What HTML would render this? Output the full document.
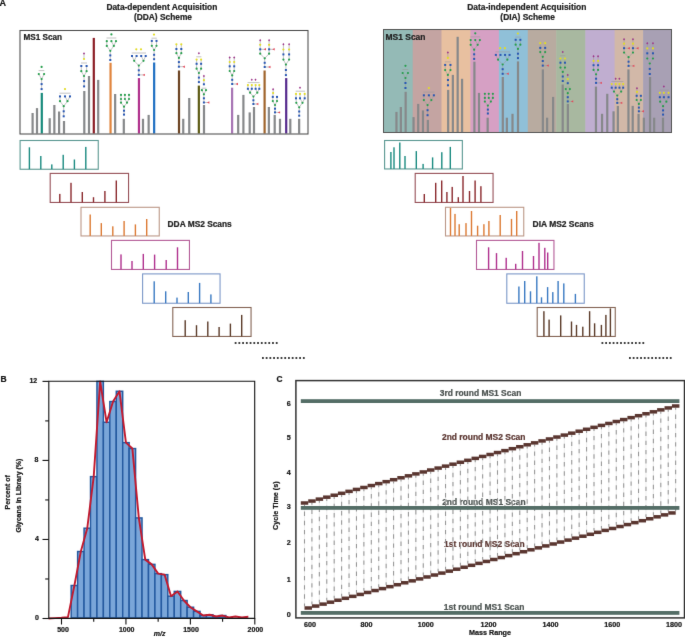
<!DOCTYPE html>
<html><head><meta charset="utf-8"><style>
html,body{margin:0;padding:0;background:#fff;}
svg{display:block;}
#w{width:685px;height:637px;overflow:hidden;}
</style></head><body><div id="w">
<svg width="685" height="637" viewBox="0 0 685 637"><defs><filter id="bl" filterUnits="userSpaceOnUse" x="0" y="0" width="685" height="637" color-interpolation-filters="sRGB"><feConvolveMatrix order="3" kernelMatrix="0.0072 0.0847 0.0072 0.0847 1.0000 0.0847 0.0072 0.0847 0.0072" divisor="1.3673" edgeMode="duplicate" preserveAlpha="true"/></filter></defs><rect width="685" height="637" fill="#fff"/><g filter="url(#bl)"><rect width="685" height="637" fill="#fff"/><text x="-0.4" y="6" font-size="9" text-anchor="start" fill="#161616" stroke="#161616" stroke-width="0.22" style="font-family:'Liberation Sans', sans-serif;font-weight:bold;">A</text><text x="0.4" y="381.7" font-size="8.5" text-anchor="start" fill="#161616" stroke="#161616" stroke-width="0.22" style="font-family:'Liberation Sans', sans-serif;font-weight:bold;">B</text><text x="276.4" y="381.6" font-size="8.4" text-anchor="start" fill="#161616" stroke="#161616" stroke-width="0.22" style="font-family:'Liberation Sans', sans-serif;font-weight:bold;">C</text><text x="161.85" y="10.0" font-size="8.4" text-anchor="middle" fill="#222" stroke="#222" stroke-width="0.22" style="font-family:'Liberation Sans', sans-serif;font-weight:bold;">Data-dependent Acquisition</text><text x="163" y="19.7" font-size="8.35" text-anchor="middle" fill="#222" stroke="#222" stroke-width="0.22" style="font-family:'Liberation Sans', sans-serif;font-weight:bold;">(DDA) Scheme</text><text x="526.8" y="10.0" font-size="8.45" text-anchor="middle" fill="#222" stroke="#222" stroke-width="0.22" style="font-family:'Liberation Sans', sans-serif;font-weight:bold;">Data-independent Acquisition</text><text x="527.6" y="19.7" font-size="8.4" text-anchor="middle" fill="#222" stroke="#222" stroke-width="0.22" style="font-family:'Liberation Sans', sans-serif;font-weight:bold;">(DIA) Scheme</text><rect x="31.50" y="113.00" width="2.2" height="20.50" fill="#86888a"/><rect x="35.90" y="108.10" width="2.2" height="25.40" fill="#86888a"/><rect x="40.70" y="92.90" width="2.2" height="40.60" fill="#178a7c"/><rect x="48.60" y="118.20" width="2.2" height="15.30" fill="#86888a"/><rect x="53.25" y="105.00" width="2.2" height="28.50" fill="#86888a"/><rect x="58.00" y="111.50" width="2.2" height="22.00" fill="#86888a"/><rect x="62.90" y="121.00" width="2.2" height="12.50" fill="#86888a"/><rect x="83.20" y="91.00" width="2.2" height="42.50" fill="#86888a"/><rect x="87.90" y="76.00" width="2.2" height="57.50" fill="#86888a"/><rect x="92.70" y="37.90" width="2.2" height="95.60" fill="#8b1c24"/><rect x="97.10" y="79.90" width="2.2" height="53.60" fill="#86888a"/><rect x="109.45" y="62.80" width="2.2" height="70.70" fill="#e0843c"/><rect x="114.05" y="94.00" width="2.2" height="39.50" fill="#86888a"/><rect x="122.70" y="118.80" width="2.2" height="14.70" fill="#86888a"/><rect x="137.85" y="78.10" width="2.2" height="55.40" fill="#b0308c"/><rect x="141.90" y="118.80" width="2.2" height="14.70" fill="#86888a"/><rect x="147.55" y="114.90" width="2.2" height="18.60" fill="#86888a"/><rect x="153.05" y="62.50" width="2.2" height="71.00" fill="#1f6fc2"/><rect x="177.90" y="70.50" width="2.2" height="63.00" fill="#6b4322"/><rect x="182.15" y="118.80" width="2.2" height="14.70" fill="#86888a"/><rect x="188.15" y="98.00" width="2.2" height="35.50" fill="#86888a"/><rect x="197.75" y="85.60" width="2.2" height="47.90" fill="#5c5a12"/><rect x="202.90" y="105.00" width="2.2" height="28.50" fill="#86888a"/><rect x="231.00" y="87.70" width="2.2" height="45.80" fill="#a774b4"/><rect x="237.10" y="114.90" width="2.2" height="18.60" fill="#86888a"/><rect x="242.30" y="94.90" width="2.2" height="38.60" fill="#86888a"/><rect x="248.60" y="112.40" width="2.2" height="21.10" fill="#86888a"/><rect x="252.90" y="107.00" width="2.2" height="26.50" fill="#86888a"/><rect x="263.50" y="70.50" width="2.2" height="63.00" fill="#a0642c"/><rect x="267.75" y="107.00" width="2.2" height="26.50" fill="#86888a"/><rect x="273.60" y="114.90" width="2.2" height="18.60" fill="#86888a"/><rect x="278.90" y="118.80" width="2.2" height="14.70" fill="#86888a"/><rect x="285.10" y="78.10" width="2.2" height="55.40" fill="#55298c"/><rect x="289.20" y="118.80" width="2.2" height="14.70" fill="#86888a"/><rect x="298.05" y="118.80" width="2.2" height="14.70" fill="#86888a"/><line x1="41.6" y1="89.1" x2="41.6" y2="84.1" stroke="#9a9a9a" stroke-width="0.6"/><line x1="41.6" y1="84.1" x2="41.6" y2="79.1" stroke="#9a9a9a" stroke-width="0.6"/><line x1="41.6" y1="79.1" x2="38.8" y2="74.1" stroke="#9a9a9a" stroke-width="0.6"/><line x1="41.6" y1="79.1" x2="44.1" y2="74.1" stroke="#9a9a9a" stroke-width="0.6"/><line x1="38.6" y1="70.6" x2="44.3" y2="70.6" stroke="#9a9a9a" stroke-width="0.6"/><line x1="63.7" y1="116.3" x2="63.7" y2="111.3" stroke="#9a9a9a" stroke-width="0.6"/><line x1="63.7" y1="111.3" x2="63.7" y2="106.2" stroke="#9a9a9a" stroke-width="0.6"/><line x1="63.7" y1="106.2" x2="60" y2="101.2" stroke="#9a9a9a" stroke-width="0.6"/><line x1="63.7" y1="106.2" x2="67.5" y2="101.2" stroke="#9a9a9a" stroke-width="0.6"/><line x1="60" y1="101.2" x2="60" y2="96.4" stroke="#9a9a9a" stroke-width="0.6"/><line x1="67.5" y1="101.2" x2="65" y2="96.4" stroke="#9a9a9a" stroke-width="0.6"/><line x1="67.5" y1="101.2" x2="70" y2="96.4" stroke="#9a9a9a" stroke-width="0.6"/><line x1="59.5" y1="93.2" x2="70.5" y2="93.2" stroke="#9a9a9a" stroke-width="0.6"/><line x1="84.1" y1="86.4" x2="84.1" y2="81.1" stroke="#9a9a9a" stroke-width="0.6"/><line x1="84.1" y1="81.1" x2="84" y2="76" stroke="#9a9a9a" stroke-width="0.6"/><line x1="84" y1="76" x2="81.3" y2="71.2" stroke="#9a9a9a" stroke-width="0.6"/><line x1="84" y1="76" x2="86.6" y2="71.2" stroke="#9a9a9a" stroke-width="0.6"/><line x1="81.3" y1="71.2" x2="81.3" y2="66" stroke="#9a9a9a" stroke-width="0.6"/><line x1="86.6" y1="71.2" x2="86.6" y2="66" stroke="#9a9a9a" stroke-width="0.6"/><line x1="84" y1="53.5" x2="84" y2="59" stroke="#9a9a9a" stroke-width="0.6"/><line x1="81" y1="63" x2="87" y2="63" stroke="#9a9a9a" stroke-width="0.6"/><line x1="110.3" y1="60" x2="110.3" y2="55.4" stroke="#9a9a9a" stroke-width="0.6"/><line x1="110.3" y1="55.4" x2="110.3" y2="50.8" stroke="#9a9a9a" stroke-width="0.6"/><line x1="110.3" y1="50.8" x2="106.8" y2="45.9" stroke="#9a9a9a" stroke-width="0.6"/><line x1="110.3" y1="50.8" x2="113.8" y2="45.9" stroke="#9a9a9a" stroke-width="0.6"/><line x1="106.8" y1="45.9" x2="106.8" y2="41.2" stroke="#9a9a9a" stroke-width="0.6"/><line x1="113.8" y1="45.9" x2="111.4" y2="41.2" stroke="#9a9a9a" stroke-width="0.6"/><line x1="113.8" y1="45.9" x2="116" y2="41.2" stroke="#9a9a9a" stroke-width="0.6"/><line x1="106.5" y1="38" x2="116.3" y2="38" stroke="#9a9a9a" stroke-width="0.6"/><line x1="124" y1="114.6" x2="124" y2="110.7" stroke="#9a9a9a" stroke-width="0.6"/><line x1="124" y1="110.7" x2="124" y2="106.7" stroke="#9a9a9a" stroke-width="0.6"/><line x1="124" y1="106.7" x2="121" y2="102.7" stroke="#9a9a9a" stroke-width="0.6"/><line x1="124" y1="106.7" x2="127" y2="102.7" stroke="#9a9a9a" stroke-width="0.6"/><line x1="121" y1="102.7" x2="121" y2="99" stroke="#9a9a9a" stroke-width="0.6"/><line x1="127" y1="102.7" x2="124.9" y2="99" stroke="#9a9a9a" stroke-width="0.6"/><line x1="127" y1="102.7" x2="129" y2="99" stroke="#9a9a9a" stroke-width="0.6"/><line x1="121" y1="99" x2="121" y2="94.9" stroke="#9a9a9a" stroke-width="0.6"/><line x1="124.9" y1="99" x2="124.9" y2="94.9" stroke="#9a9a9a" stroke-width="0.6"/><line x1="129" y1="99" x2="129" y2="94.9" stroke="#9a9a9a" stroke-width="0.6"/><line x1="138.8" y1="74.9" x2="138.8" y2="70.3" stroke="#9a9a9a" stroke-width="0.6"/><line x1="138.8" y1="70.3" x2="138.8" y2="65.6" stroke="#9a9a9a" stroke-width="0.6"/><line x1="138.8" y1="65.6" x2="134.2" y2="60.8" stroke="#9a9a9a" stroke-width="0.6"/><line x1="138.8" y1="65.6" x2="143.5" y2="60.8" stroke="#9a9a9a" stroke-width="0.6"/><line x1="134.2" y1="60.8" x2="132" y2="56" stroke="#9a9a9a" stroke-width="0.6"/><line x1="134.2" y1="60.8" x2="136.6" y2="56" stroke="#9a9a9a" stroke-width="0.6"/><line x1="143.5" y1="60.8" x2="141.2" y2="56" stroke="#9a9a9a" stroke-width="0.6"/><line x1="143.5" y1="60.8" x2="145.7" y2="56" stroke="#9a9a9a" stroke-width="0.6"/><line x1="138.8" y1="74.9" x2="143.8" y2="74.9" stroke="#9a9a9a" stroke-width="0.6"/><line x1="131.7" y1="53" x2="146" y2="53" stroke="#9a9a9a" stroke-width="0.6"/><line x1="154.1" y1="59.2" x2="154.1" y2="54.8" stroke="#9a9a9a" stroke-width="0.6"/><line x1="154.1" y1="54.8" x2="154.1" y2="50" stroke="#9a9a9a" stroke-width="0.6"/><line x1="154.1" y1="50" x2="151.8" y2="45.8" stroke="#9a9a9a" stroke-width="0.6"/><line x1="154.1" y1="50" x2="156.5" y2="45.8" stroke="#9a9a9a" stroke-width="0.6"/><line x1="151.8" y1="45.8" x2="151.8" y2="40.9" stroke="#9a9a9a" stroke-width="0.6"/><line x1="156.5" y1="45.8" x2="156.5" y2="40.9" stroke="#9a9a9a" stroke-width="0.6"/><line x1="151.5" y1="38.2" x2="156.8" y2="38.2" stroke="#9a9a9a" stroke-width="0.6"/><line x1="178.9" y1="66.7" x2="178.9" y2="62.1" stroke="#9a9a9a" stroke-width="0.6"/><line x1="178.9" y1="62.1" x2="178.9" y2="57.9" stroke="#9a9a9a" stroke-width="0.6"/><line x1="178.9" y1="57.9" x2="176.4" y2="53.2" stroke="#9a9a9a" stroke-width="0.6"/><line x1="178.9" y1="57.9" x2="181.3" y2="53.2" stroke="#9a9a9a" stroke-width="0.6"/><line x1="176.4" y1="53.2" x2="176.4" y2="49" stroke="#9a9a9a" stroke-width="0.6"/><line x1="181.3" y1="53.2" x2="181.3" y2="49" stroke="#9a9a9a" stroke-width="0.6"/><line x1="176.4" y1="49" x2="176.4" y2="44.3" stroke="#9a9a9a" stroke-width="0.6"/><line x1="181.3" y1="49" x2="181.3" y2="44.3" stroke="#9a9a9a" stroke-width="0.6"/><line x1="178.9" y1="66.7" x2="183.8" y2="66.7" stroke="#9a9a9a" stroke-width="0.6"/><line x1="198.9" y1="82.1" x2="198.9" y2="77.6" stroke="#9a9a9a" stroke-width="0.6"/><line x1="198.9" y1="77.6" x2="198.9" y2="73" stroke="#9a9a9a" stroke-width="0.6"/><line x1="198.9" y1="73" x2="196.6" y2="68.7" stroke="#9a9a9a" stroke-width="0.6"/><line x1="198.9" y1="73" x2="201.1" y2="68.7" stroke="#9a9a9a" stroke-width="0.6"/><line x1="196.6" y1="68.7" x2="196.6" y2="63.8" stroke="#9a9a9a" stroke-width="0.6"/><line x1="201.1" y1="68.7" x2="201.1" y2="63.8" stroke="#9a9a9a" stroke-width="0.6"/><line x1="196.6" y1="63.8" x2="196.6" y2="59.6" stroke="#9a9a9a" stroke-width="0.6"/><line x1="201.1" y1="63.8" x2="201.1" y2="59.6" stroke="#9a9a9a" stroke-width="0.6"/><line x1="196.3" y1="56.8" x2="201.4" y2="56.8" stroke="#9a9a9a" stroke-width="0.6"/><line x1="203.9" y1="102.5" x2="203.9" y2="98.3" stroke="#9a9a9a" stroke-width="0.6"/><line x1="203.9" y1="98.3" x2="203.9" y2="94.3" stroke="#9a9a9a" stroke-width="0.6"/><line x1="203.9" y1="94.3" x2="201.9" y2="90.2" stroke="#9a9a9a" stroke-width="0.6"/><line x1="203.9" y1="94.3" x2="206" y2="90.2" stroke="#9a9a9a" stroke-width="0.6"/><line x1="203.9" y1="84.3" x2="203.9" y2="80.2" stroke="#9a9a9a" stroke-width="0.6"/><line x1="203.9" y1="80.2" x2="203.9" y2="76.1" stroke="#9a9a9a" stroke-width="0.6"/><line x1="203.9" y1="102.5" x2="208.3" y2="102.5" stroke="#9a9a9a" stroke-width="0.6"/><line x1="201.6" y1="88.2" x2="206.3" y2="88.2" stroke="#9a9a9a" stroke-width="0.6"/><line x1="232.2" y1="84" x2="232.2" y2="79.8" stroke="#9a9a9a" stroke-width="0.6"/><line x1="232.2" y1="79.8" x2="232.2" y2="75.4" stroke="#9a9a9a" stroke-width="0.6"/><line x1="232.2" y1="75.4" x2="229.7" y2="71" stroke="#9a9a9a" stroke-width="0.6"/><line x1="232.2" y1="75.4" x2="234.2" y2="71" stroke="#9a9a9a" stroke-width="0.6"/><line x1="229.7" y1="71" x2="229.7" y2="66.3" stroke="#9a9a9a" stroke-width="0.6"/><line x1="234.2" y1="71" x2="234.2" y2="66.3" stroke="#9a9a9a" stroke-width="0.6"/><line x1="229.7" y1="66.3" x2="229.7" y2="62" stroke="#9a9a9a" stroke-width="0.6"/><line x1="234.2" y1="66.3" x2="234.2" y2="62" stroke="#9a9a9a" stroke-width="0.6"/><line x1="229.7" y1="62" x2="229.7" y2="57.4" stroke="#9a9a9a" stroke-width="0.6"/><line x1="234.2" y1="62" x2="234.2" y2="57.4" stroke="#9a9a9a" stroke-width="0.6"/><line x1="232.2" y1="84" x2="236.9" y2="84" stroke="#9a9a9a" stroke-width="0.6"/><line x1="253.4" y1="104" x2="253.4" y2="100.3" stroke="#9a9a9a" stroke-width="0.6"/><line x1="253.4" y1="100.3" x2="253.4" y2="96.6" stroke="#9a9a9a" stroke-width="0.6"/><line x1="253.4" y1="96.6" x2="250.1" y2="92.7" stroke="#9a9a9a" stroke-width="0.6"/><line x1="253.4" y1="96.6" x2="257.3" y2="92.7" stroke="#9a9a9a" stroke-width="0.6"/><line x1="250.1" y1="92.7" x2="247.9" y2="88.8" stroke="#9a9a9a" stroke-width="0.6"/><line x1="250.1" y1="92.7" x2="251.8" y2="88.8" stroke="#9a9a9a" stroke-width="0.6"/><line x1="257.3" y1="92.7" x2="255.6" y2="88.8" stroke="#9a9a9a" stroke-width="0.6"/><line x1="257.3" y1="92.7" x2="259.3" y2="88.8" stroke="#9a9a9a" stroke-width="0.6"/><line x1="247.9" y1="88.8" x2="247.9" y2="85.1" stroke="#9a9a9a" stroke-width="0.6"/><line x1="251.8" y1="88.8" x2="251.8" y2="85.1" stroke="#9a9a9a" stroke-width="0.6"/><line x1="255.6" y1="88.8" x2="255.6" y2="85.1" stroke="#9a9a9a" stroke-width="0.6"/><line x1="259.3" y1="88.8" x2="259.3" y2="85.1" stroke="#9a9a9a" stroke-width="0.6"/><line x1="253.4" y1="104" x2="257.3" y2="104" stroke="#9a9a9a" stroke-width="0.6"/><line x1="247.6" y1="82.6" x2="259.6" y2="82.6" stroke="#9a9a9a" stroke-width="0.6"/><line x1="264.7" y1="67" x2="264.7" y2="62.8" stroke="#9a9a9a" stroke-width="0.6"/><line x1="264.7" y1="62.8" x2="264.7" y2="58.3" stroke="#9a9a9a" stroke-width="0.6"/><line x1="264.7" y1="58.3" x2="260.2" y2="53.7" stroke="#9a9a9a" stroke-width="0.6"/><line x1="264.7" y1="58.3" x2="269.1" y2="53.7" stroke="#9a9a9a" stroke-width="0.6"/><line x1="260.2" y1="53.7" x2="260.2" y2="49.3" stroke="#9a9a9a" stroke-width="0.6"/><line x1="269.1" y1="53.7" x2="269.1" y2="49.3" stroke="#9a9a9a" stroke-width="0.6"/><line x1="260.2" y1="49.3" x2="260.2" y2="44.8" stroke="#9a9a9a" stroke-width="0.6"/><line x1="269.1" y1="49.3" x2="269.1" y2="44.8" stroke="#9a9a9a" stroke-width="0.6"/><line x1="260.2" y1="44.8" x2="260.2" y2="40.3" stroke="#9a9a9a" stroke-width="0.6"/><line x1="269.1" y1="44.8" x2="269.1" y2="40.3" stroke="#9a9a9a" stroke-width="0.6"/><line x1="260.2" y1="49.3" x2="264.9" y2="49.3" stroke="#9a9a9a" stroke-width="0.6"/><line x1="269.1" y1="49.3" x2="273.6" y2="49.3" stroke="#9a9a9a" stroke-width="0.6"/><line x1="264.7" y1="67" x2="269.4" y2="67" stroke="#9a9a9a" stroke-width="0.6"/><line x1="275" y1="112.4" x2="275" y2="108.7" stroke="#9a9a9a" stroke-width="0.6"/><line x1="275" y1="108.7" x2="275" y2="105" stroke="#9a9a9a" stroke-width="0.6"/><line x1="275" y1="105" x2="272.8" y2="101.1" stroke="#9a9a9a" stroke-width="0.6"/><line x1="275" y1="105" x2="277" y2="101.1" stroke="#9a9a9a" stroke-width="0.6"/><line x1="272.8" y1="101.1" x2="272.8" y2="96.9" stroke="#9a9a9a" stroke-width="0.6"/><line x1="277" y1="101.1" x2="277" y2="96.9" stroke="#9a9a9a" stroke-width="0.6"/><line x1="272.8" y1="96.9" x2="273.1" y2="93" stroke="#9a9a9a" stroke-width="0.6"/><line x1="273.1" y1="93" x2="273.1" y2="89.3" stroke="#9a9a9a" stroke-width="0.6"/><line x1="275" y1="112.4" x2="279" y2="112.4" stroke="#9a9a9a" stroke-width="0.6"/><line x1="285.9" y1="75.1" x2="285.9" y2="70" stroke="#9a9a9a" stroke-width="0.6"/><line x1="285.9" y1="70" x2="285.9" y2="64.6" stroke="#9a9a9a" stroke-width="0.6"/><line x1="285.9" y1="64.6" x2="283.4" y2="59.6" stroke="#9a9a9a" stroke-width="0.6"/><line x1="285.9" y1="64.6" x2="289.1" y2="59.6" stroke="#9a9a9a" stroke-width="0.6"/><line x1="283.4" y1="59.6" x2="283.4" y2="54.4" stroke="#9a9a9a" stroke-width="0.6"/><line x1="289.1" y1="59.6" x2="289.1" y2="54.4" stroke="#9a9a9a" stroke-width="0.6"/><line x1="283.4" y1="54.4" x2="283.4" y2="49.5" stroke="#9a9a9a" stroke-width="0.6"/><line x1="289.1" y1="54.4" x2="289.1" y2="49.5" stroke="#9a9a9a" stroke-width="0.6"/><line x1="283.4" y1="49.5" x2="283.4" y2="44.3" stroke="#9a9a9a" stroke-width="0.6"/><line x1="289.1" y1="49.5" x2="289.1" y2="44.3" stroke="#9a9a9a" stroke-width="0.6"/><line x1="299.2" y1="115.7" x2="299.2" y2="111.5" stroke="#9a9a9a" stroke-width="0.6"/><line x1="299.2" y1="111.5" x2="299.2" y2="107.3" stroke="#9a9a9a" stroke-width="0.6"/><line x1="299.2" y1="107.3" x2="296.3" y2="102.8" stroke="#9a9a9a" stroke-width="0.6"/><line x1="299.2" y1="107.3" x2="302.5" y2="102.8" stroke="#9a9a9a" stroke-width="0.6"/><line x1="296.3" y1="102.8" x2="296" y2="98.3" stroke="#9a9a9a" stroke-width="0.6"/><line x1="302.5" y1="102.8" x2="300" y2="98.3" stroke="#9a9a9a" stroke-width="0.6"/><line x1="302.5" y1="102.8" x2="304.7" y2="98.3" stroke="#9a9a9a" stroke-width="0.6"/><line x1="296" y1="98.3" x2="296" y2="93.9" stroke="#9a9a9a" stroke-width="0.6"/><line x1="300" y1="98.3" x2="300" y2="93.9" stroke="#9a9a9a" stroke-width="0.6"/><line x1="304.7" y1="98.3" x2="304.7" y2="93.9" stroke="#9a9a9a" stroke-width="0.6"/><line x1="295.7" y1="91.2" x2="305" y2="91.2" stroke="#9a9a9a" stroke-width="0.6"/><circle cx="41.60" cy="66.90" r="1.1" fill="#269e4c"/><circle cx="38.80" cy="74.10" r="1.1" fill="#269e4c"/><circle cx="44.10" cy="74.10" r="1.1" fill="#269e4c"/><circle cx="41.60" cy="79.10" r="1.1" fill="#269e4c"/><rect x="40.60" y="83.10" width="2.0" height="2.0" fill="#2756b2"/><rect x="40.60" y="88.10" width="2.0" height="2.0" fill="#2756b2"/><circle cx="65.00" cy="89.10" r="1.1" fill="#e2dc26"/><rect x="59.00" y="95.40" width="2.0" height="2.0" fill="#2756b2"/><rect x="64.00" y="95.40" width="2.0" height="2.0" fill="#2756b2"/><rect x="69.00" y="95.40" width="2.0" height="2.0" fill="#2756b2"/><circle cx="60.00" cy="101.20" r="1.1" fill="#269e4c"/><circle cx="67.50" cy="101.20" r="1.1" fill="#269e4c"/><circle cx="63.70" cy="106.20" r="1.1" fill="#269e4c"/><rect x="62.70" y="110.30" width="2.0" height="2.0" fill="#2756b2"/><rect x="62.70" y="115.30" width="2.0" height="2.0" fill="#2756b2"/><path d="M84.00,52.25 L85.05,53.50 L84.00,54.75 L82.95,53.50 Z" fill="#9c3488"/><circle cx="84.00" cy="59.00" r="1.1" fill="#e2dc26"/><rect x="80.30" y="65.00" width="2.0" height="2.0" fill="#2756b2"/><rect x="85.60" y="65.00" width="2.0" height="2.0" fill="#2756b2"/><circle cx="81.30" cy="71.20" r="1.1" fill="#269e4c"/><circle cx="86.60" cy="71.20" r="1.1" fill="#269e4c"/><circle cx="84.00" cy="76.00" r="1.1" fill="#269e4c"/><rect x="83.10" y="80.10" width="2.0" height="2.0" fill="#2756b2"/><rect x="83.10" y="85.40" width="2.0" height="2.0" fill="#2756b2"/><circle cx="111.40" cy="34.40" r="1.1" fill="#269e4c"/><circle cx="106.80" cy="41.20" r="1.1" fill="#269e4c"/><circle cx="111.40" cy="41.20" r="1.1" fill="#269e4c"/><circle cx="116.00" cy="41.20" r="1.1" fill="#269e4c"/><circle cx="106.80" cy="45.90" r="1.1" fill="#269e4c"/><circle cx="113.80" cy="45.90" r="1.1" fill="#269e4c"/><circle cx="110.30" cy="50.80" r="1.1" fill="#269e4c"/><rect x="109.30" y="54.40" width="2.0" height="2.0" fill="#2756b2"/><rect x="109.30" y="59.00" width="2.0" height="2.0" fill="#2756b2"/><circle cx="121.00" cy="94.90" r="1.1" fill="#269e4c"/><circle cx="124.90" cy="94.90" r="1.1" fill="#269e4c"/><circle cx="129.00" cy="94.90" r="1.1" fill="#269e4c"/><circle cx="121.00" cy="99.00" r="1.1" fill="#269e4c"/><circle cx="124.90" cy="99.00" r="1.1" fill="#269e4c"/><circle cx="129.00" cy="99.00" r="1.1" fill="#269e4c"/><circle cx="121.00" cy="102.70" r="1.1" fill="#269e4c"/><circle cx="127.00" cy="102.70" r="1.1" fill="#269e4c"/><circle cx="124.00" cy="106.70" r="1.1" fill="#269e4c"/><rect x="123.00" y="109.70" width="2.0" height="2.0" fill="#2756b2"/><rect x="123.00" y="113.60" width="2.0" height="2.0" fill="#2756b2"/><circle cx="136.30" cy="49.30" r="1.1" fill="#e2dc26"/><circle cx="141.00" cy="49.30" r="1.1" fill="#e2dc26"/><rect x="131.00" y="55.00" width="2.0" height="2.0" fill="#2756b2"/><rect x="135.60" y="55.00" width="2.0" height="2.0" fill="#2756b2"/><rect x="140.20" y="55.00" width="2.0" height="2.0" fill="#2756b2"/><rect x="144.70" y="55.00" width="2.0" height="2.0" fill="#2756b2"/><circle cx="134.20" cy="60.80" r="1.1" fill="#269e4c"/><circle cx="143.50" cy="60.80" r="1.1" fill="#269e4c"/><circle cx="138.80" cy="65.60" r="1.1" fill="#269e4c"/><rect x="137.80" y="69.30" width="2.0" height="2.0" fill="#2756b2"/><rect x="137.80" y="73.90" width="2.0" height="2.0" fill="#2756b2"/><path d="M142.50,74.90 L144.90,73.70 L144.90,76.10 Z" fill="#e4485a"/><circle cx="154.00" cy="34.60" r="1.1" fill="#e2dc26"/><rect x="150.80" y="39.90" width="2.0" height="2.0" fill="#2756b2"/><rect x="155.50" y="39.90" width="2.0" height="2.0" fill="#2756b2"/><circle cx="151.80" cy="45.80" r="1.1" fill="#269e4c"/><circle cx="156.50" cy="45.80" r="1.1" fill="#269e4c"/><circle cx="154.10" cy="50.00" r="1.1" fill="#269e4c"/><rect x="153.10" y="53.80" width="2.0" height="2.0" fill="#2756b2"/><rect x="153.10" y="58.20" width="2.0" height="2.0" fill="#2756b2"/><circle cx="176.40" cy="44.30" r="1.1" fill="#e2dc26"/><circle cx="181.30" cy="44.30" r="1.1" fill="#e2dc26"/><rect x="175.40" y="48.00" width="2.0" height="2.0" fill="#2756b2"/><rect x="180.30" y="48.00" width="2.0" height="2.0" fill="#2756b2"/><circle cx="176.40" cy="53.20" r="1.1" fill="#269e4c"/><circle cx="181.30" cy="53.20" r="1.1" fill="#269e4c"/><circle cx="178.90" cy="57.90" r="1.1" fill="#269e4c"/><rect x="177.90" y="61.10" width="2.0" height="2.0" fill="#2756b2"/><rect x="177.90" y="65.70" width="2.0" height="2.0" fill="#2756b2"/><path d="M182.50,66.70 L184.90,65.50 L184.90,67.90 Z" fill="#e4485a"/><path d="M198.90,51.95 L199.95,53.20 L198.90,54.45 L197.85,53.20 Z" fill="#9c3488"/><circle cx="196.60" cy="59.60" r="1.1" fill="#e2dc26"/><circle cx="201.10" cy="59.60" r="1.1" fill="#e2dc26"/><rect x="195.60" y="62.80" width="2.0" height="2.0" fill="#2756b2"/><rect x="200.10" y="62.80" width="2.0" height="2.0" fill="#2756b2"/><circle cx="196.60" cy="68.70" r="1.1" fill="#269e4c"/><circle cx="201.10" cy="68.70" r="1.1" fill="#269e4c"/><circle cx="198.90" cy="73.00" r="1.1" fill="#269e4c"/><rect x="197.90" y="76.60" width="2.0" height="2.0" fill="#2756b2"/><rect x="197.90" y="81.10" width="2.0" height="2.0" fill="#2756b2"/><path d="M203.90,74.85 L204.95,76.10 L203.90,77.35 L202.85,76.10 Z" fill="#9c3488"/><circle cx="203.90" cy="80.20" r="1.1" fill="#e2dc26"/><rect x="202.90" y="83.30" width="2.0" height="2.0" fill="#2756b2"/><circle cx="201.90" cy="90.20" r="1.1" fill="#269e4c"/><circle cx="206.00" cy="90.20" r="1.1" fill="#269e4c"/><circle cx="203.90" cy="94.30" r="1.1" fill="#269e4c"/><rect x="202.90" y="97.30" width="2.0" height="2.0" fill="#2756b2"/><rect x="202.90" y="101.50" width="2.0" height="2.0" fill="#2756b2"/><path d="M207.00,102.50 L209.40,101.30 L209.40,103.70 Z" fill="#e4485a"/><path d="M229.70,56.15 L230.75,57.40 L229.70,58.65 L228.65,57.40 Z" fill="#9c3488"/><path d="M234.20,56.15 L235.25,57.40 L234.20,58.65 L233.15,57.40 Z" fill="#9c3488"/><circle cx="229.70" cy="62.00" r="1.1" fill="#e2dc26"/><circle cx="234.20" cy="62.00" r="1.1" fill="#e2dc26"/><rect x="228.70" y="65.30" width="2.0" height="2.0" fill="#2756b2"/><rect x="233.20" y="65.30" width="2.0" height="2.0" fill="#2756b2"/><circle cx="229.70" cy="71.00" r="1.1" fill="#269e4c"/><circle cx="234.20" cy="71.00" r="1.1" fill="#269e4c"/><circle cx="232.20" cy="75.40" r="1.1" fill="#269e4c"/><rect x="231.20" y="78.80" width="2.0" height="2.0" fill="#2756b2"/><rect x="231.20" y="83.00" width="2.0" height="2.0" fill="#2756b2"/><path d="M235.60,84.00 L238.00,82.80 L238.00,85.20 Z" fill="#e4485a"/><path d="M251.80,78.55 L252.85,79.80 L251.80,81.05 L250.75,79.80 Z" fill="#9c3488"/><path d="M255.50,78.55 L256.55,79.80 L255.50,81.05 L254.45,79.80 Z" fill="#9c3488"/><circle cx="247.90" cy="85.10" r="1.1" fill="#e2dc26"/><circle cx="251.80" cy="85.10" r="1.1" fill="#e2dc26"/><circle cx="255.60" cy="85.10" r="1.1" fill="#e2dc26"/><circle cx="259.30" cy="85.10" r="1.1" fill="#e2dc26"/><rect x="246.90" y="87.80" width="2.0" height="2.0" fill="#2756b2"/><rect x="250.80" y="87.80" width="2.0" height="2.0" fill="#2756b2"/><rect x="254.60" y="87.80" width="2.0" height="2.0" fill="#2756b2"/><rect x="258.30" y="87.80" width="2.0" height="2.0" fill="#2756b2"/><circle cx="250.10" cy="92.70" r="1.1" fill="#269e4c"/><circle cx="257.30" cy="92.70" r="1.1" fill="#269e4c"/><circle cx="253.40" cy="96.60" r="1.1" fill="#269e4c"/><rect x="252.40" y="99.30" width="2.0" height="2.0" fill="#2756b2"/><rect x="252.40" y="103.00" width="2.0" height="2.0" fill="#2756b2"/><path d="M256.00,104.00 L258.40,102.80 L258.40,105.20 Z" fill="#e4485a"/><path d="M260.20,39.05 L261.25,40.30 L260.20,41.55 L259.15,40.30 Z" fill="#9c3488"/><path d="M269.10,39.05 L270.15,40.30 L269.10,41.55 L268.05,40.30 Z" fill="#9c3488"/><circle cx="260.20" cy="44.80" r="1.1" fill="#e2dc26"/><circle cx="269.10" cy="44.80" r="1.1" fill="#e2dc26"/><rect x="259.20" y="48.30" width="2.0" height="2.0" fill="#2756b2"/><rect x="268.10" y="48.30" width="2.0" height="2.0" fill="#2756b2"/><path d="M263.60,49.30 L266.00,48.10 L266.00,50.50 Z" fill="#e4485a"/><path d="M272.30,49.30 L274.70,48.10 L274.70,50.50 Z" fill="#e4485a"/><circle cx="260.20" cy="53.70" r="1.1" fill="#269e4c"/><circle cx="269.10" cy="53.70" r="1.1" fill="#269e4c"/><circle cx="264.70" cy="58.30" r="1.1" fill="#269e4c"/><rect x="263.70" y="61.80" width="2.0" height="2.0" fill="#2756b2"/><rect x="263.70" y="66.00" width="2.0" height="2.0" fill="#2756b2"/><path d="M268.10,67.00 L270.50,65.80 L270.50,68.20 Z" fill="#e4485a"/><path d="M273.10,88.05 L274.15,89.30 L273.10,90.55 L272.05,89.30 Z" fill="#9c3488"/><circle cx="273.10" cy="93.00" r="1.1" fill="#e2dc26"/><rect x="271.80" y="95.90" width="2.0" height="2.0" fill="#2756b2"/><rect x="276.00" y="95.90" width="2.0" height="2.0" fill="#2756b2"/><circle cx="272.80" cy="101.10" r="1.1" fill="#269e4c"/><circle cx="277.00" cy="101.10" r="1.1" fill="#269e4c"/><circle cx="275.00" cy="105.00" r="1.1" fill="#269e4c"/><rect x="274.00" y="107.70" width="2.0" height="2.0" fill="#2756b2"/><rect x="274.00" y="111.40" width="2.0" height="2.0" fill="#2756b2"/><path d="M277.70,112.40 L280.10,111.20 L280.10,113.60 Z" fill="#e4485a"/><path d="M283.40,43.05 L284.45,44.30 L283.40,45.55 L282.35,44.30 Z" fill="#9c3488"/><path d="M289.10,43.05 L290.15,44.30 L289.10,45.55 L288.05,44.30 Z" fill="#9c3488"/><circle cx="283.40" cy="49.50" r="1.1" fill="#e2dc26"/><circle cx="289.10" cy="49.50" r="1.1" fill="#e2dc26"/><rect x="282.40" y="53.40" width="2.0" height="2.0" fill="#2756b2"/><rect x="288.10" y="53.40" width="2.0" height="2.0" fill="#2756b2"/><circle cx="283.40" cy="59.60" r="1.1" fill="#269e4c"/><circle cx="289.10" cy="59.60" r="1.1" fill="#269e4c"/><circle cx="285.90" cy="64.60" r="1.1" fill="#269e4c"/><rect x="284.90" y="69.00" width="2.0" height="2.0" fill="#2756b2"/><rect x="284.90" y="74.10" width="2.0" height="2.0" fill="#2756b2"/><path d="M300.00,86.45 L301.05,87.70 L300.00,88.95 L298.95,87.70 Z" fill="#9c3488"/><circle cx="296.00" cy="93.90" r="1.1" fill="#e2dc26"/><circle cx="300.00" cy="93.90" r="1.1" fill="#e2dc26"/><circle cx="304.70" cy="93.90" r="1.1" fill="#e2dc26"/><rect x="295.00" y="97.30" width="2.0" height="2.0" fill="#2756b2"/><rect x="299.00" y="97.30" width="2.0" height="2.0" fill="#2756b2"/><rect x="303.70" y="97.30" width="2.0" height="2.0" fill="#2756b2"/><circle cx="296.30" cy="102.80" r="1.1" fill="#269e4c"/><circle cx="302.50" cy="102.80" r="1.1" fill="#269e4c"/><circle cx="299.20" cy="107.30" r="1.1" fill="#269e4c"/><rect x="298.20" y="110.50" width="2.0" height="2.0" fill="#2756b2"/><rect x="298.20" y="114.70" width="2.0" height="2.0" fill="#2756b2"/><rect x="20" y="30.5" width="288" height="103.5" fill="none" stroke="#4a4a4a" stroke-width="1.05"/><text x="23.4" y="39.9" font-size="8.2" text-anchor="start" fill="#1c1c1c" stroke="#1c1c1c" stroke-width="0.22" style="font-family:'Liberation Sans', sans-serif;font-weight:bold;">MS1 Scan</text><rect x="383.4" y="29" width="29.90" height="104" fill="#94bab6"/><rect x="412.7" y="29" width="29.40" height="104" fill="#c4a4a2"/><rect x="441.5" y="29" width="29.50" height="104" fill="#e8c0a0"/><rect x="470.4" y="29" width="29.10" height="104" fill="#d6a0c4"/><rect x="498.9" y="29" width="29.50" height="104" fill="#90c0d8"/><rect x="527.8" y="29" width="29.00" height="104" fill="#b8aba0"/><rect x="556.2" y="29" width="29.70" height="104" fill="#a8b8a0"/><rect x="585.3" y="29" width="29.90" height="104" fill="#c0aed0"/><rect x="614.6" y="29" width="29.10" height="104" fill="#d2b8a8"/><rect x="643.1" y="29" width="28.90" height="104" fill="#a8a0b4"/><rect x="395.36" y="111.90" width="2.2" height="20.50" fill="#86888a"/><rect x="399.76" y="107.00" width="2.2" height="25.40" fill="#86888a"/><rect x="404.56" y="91.80" width="2.2" height="40.60" fill="#86888a"/><rect x="412.46" y="117.10" width="2.2" height="15.30" fill="#86888a"/><rect x="417.11" y="103.90" width="2.2" height="28.50" fill="#86888a"/><rect x="421.86" y="110.40" width="2.2" height="22.00" fill="#86888a"/><rect x="426.76" y="119.90" width="2.2" height="12.50" fill="#86888a"/><rect x="447.06" y="89.90" width="2.2" height="42.50" fill="#86888a"/><rect x="451.76" y="74.90" width="2.2" height="57.50" fill="#86888a"/><rect x="456.56" y="36.80" width="2.2" height="95.60" fill="#86888a"/><rect x="460.96" y="78.80" width="2.2" height="53.60" fill="#86888a"/><rect x="473.31" y="61.70" width="2.2" height="70.70" fill="#86888a"/><rect x="477.91" y="92.90" width="2.2" height="39.50" fill="#86888a"/><rect x="486.56" y="117.70" width="2.2" height="14.70" fill="#86888a"/><rect x="501.71" y="77.00" width="2.2" height="55.40" fill="#86888a"/><rect x="505.76" y="117.70" width="2.2" height="14.70" fill="#86888a"/><rect x="511.41" y="113.80" width="2.2" height="18.60" fill="#86888a"/><rect x="516.91" y="61.40" width="2.2" height="71.00" fill="#86888a"/><rect x="541.76" y="69.40" width="2.2" height="63.00" fill="#86888a"/><rect x="546.01" y="117.70" width="2.2" height="14.70" fill="#86888a"/><rect x="552.01" y="96.90" width="2.2" height="35.50" fill="#86888a"/><rect x="561.61" y="84.50" width="2.2" height="47.90" fill="#86888a"/><rect x="566.76" y="103.90" width="2.2" height="28.50" fill="#86888a"/><rect x="594.86" y="86.60" width="2.2" height="45.80" fill="#86888a"/><rect x="600.96" y="113.80" width="2.2" height="18.60" fill="#86888a"/><rect x="606.16" y="93.80" width="2.2" height="38.60" fill="#86888a"/><rect x="612.46" y="111.30" width="2.2" height="21.10" fill="#86888a"/><rect x="616.76" y="105.90" width="2.2" height="26.50" fill="#86888a"/><rect x="627.36" y="69.40" width="2.2" height="63.00" fill="#86888a"/><rect x="631.61" y="105.90" width="2.2" height="26.50" fill="#86888a"/><rect x="637.46" y="113.80" width="2.2" height="18.60" fill="#86888a"/><rect x="642.76" y="117.70" width="2.2" height="14.70" fill="#86888a"/><rect x="648.96" y="77.00" width="2.2" height="55.40" fill="#86888a"/><rect x="653.06" y="117.70" width="2.2" height="14.70" fill="#86888a"/><rect x="661.91" y="117.70" width="2.2" height="14.70" fill="#86888a"/><g transform="translate(363.86,-1.1)"><line x1="41.6" y1="89.1" x2="41.6" y2="84.1" stroke="#9a9a9a" stroke-width="0.6"/><line x1="41.6" y1="84.1" x2="41.6" y2="79.1" stroke="#9a9a9a" stroke-width="0.6"/><line x1="41.6" y1="79.1" x2="38.8" y2="74.1" stroke="#9a9a9a" stroke-width="0.6"/><line x1="41.6" y1="79.1" x2="44.1" y2="74.1" stroke="#9a9a9a" stroke-width="0.6"/><line x1="38.6" y1="70.6" x2="44.3" y2="70.6" stroke="#9a9a9a" stroke-width="0.6"/><line x1="63.7" y1="116.3" x2="63.7" y2="111.3" stroke="#9a9a9a" stroke-width="0.6"/><line x1="63.7" y1="111.3" x2="63.7" y2="106.2" stroke="#9a9a9a" stroke-width="0.6"/><line x1="63.7" y1="106.2" x2="60" y2="101.2" stroke="#9a9a9a" stroke-width="0.6"/><line x1="63.7" y1="106.2" x2="67.5" y2="101.2" stroke="#9a9a9a" stroke-width="0.6"/><line x1="60" y1="101.2" x2="60" y2="96.4" stroke="#9a9a9a" stroke-width="0.6"/><line x1="67.5" y1="101.2" x2="65" y2="96.4" stroke="#9a9a9a" stroke-width="0.6"/><line x1="67.5" y1="101.2" x2="70" y2="96.4" stroke="#9a9a9a" stroke-width="0.6"/><line x1="59.5" y1="93.2" x2="70.5" y2="93.2" stroke="#9a9a9a" stroke-width="0.6"/><line x1="84.1" y1="86.4" x2="84.1" y2="81.1" stroke="#9a9a9a" stroke-width="0.6"/><line x1="84.1" y1="81.1" x2="84" y2="76" stroke="#9a9a9a" stroke-width="0.6"/><line x1="84" y1="76" x2="81.3" y2="71.2" stroke="#9a9a9a" stroke-width="0.6"/><line x1="84" y1="76" x2="86.6" y2="71.2" stroke="#9a9a9a" stroke-width="0.6"/><line x1="81.3" y1="71.2" x2="81.3" y2="66" stroke="#9a9a9a" stroke-width="0.6"/><line x1="86.6" y1="71.2" x2="86.6" y2="66" stroke="#9a9a9a" stroke-width="0.6"/><line x1="84" y1="53.5" x2="84" y2="59" stroke="#9a9a9a" stroke-width="0.6"/><line x1="81" y1="63" x2="87" y2="63" stroke="#9a9a9a" stroke-width="0.6"/><line x1="110.3" y1="60" x2="110.3" y2="55.4" stroke="#9a9a9a" stroke-width="0.6"/><line x1="110.3" y1="55.4" x2="110.3" y2="50.8" stroke="#9a9a9a" stroke-width="0.6"/><line x1="110.3" y1="50.8" x2="106.8" y2="45.9" stroke="#9a9a9a" stroke-width="0.6"/><line x1="110.3" y1="50.8" x2="113.8" y2="45.9" stroke="#9a9a9a" stroke-width="0.6"/><line x1="106.8" y1="45.9" x2="106.8" y2="41.2" stroke="#9a9a9a" stroke-width="0.6"/><line x1="113.8" y1="45.9" x2="111.4" y2="41.2" stroke="#9a9a9a" stroke-width="0.6"/><line x1="113.8" y1="45.9" x2="116" y2="41.2" stroke="#9a9a9a" stroke-width="0.6"/><line x1="106.5" y1="38" x2="116.3" y2="38" stroke="#9a9a9a" stroke-width="0.6"/><line x1="124" y1="114.6" x2="124" y2="110.7" stroke="#9a9a9a" stroke-width="0.6"/><line x1="124" y1="110.7" x2="124" y2="106.7" stroke="#9a9a9a" stroke-width="0.6"/><line x1="124" y1="106.7" x2="121" y2="102.7" stroke="#9a9a9a" stroke-width="0.6"/><line x1="124" y1="106.7" x2="127" y2="102.7" stroke="#9a9a9a" stroke-width="0.6"/><line x1="121" y1="102.7" x2="121" y2="99" stroke="#9a9a9a" stroke-width="0.6"/><line x1="127" y1="102.7" x2="124.9" y2="99" stroke="#9a9a9a" stroke-width="0.6"/><line x1="127" y1="102.7" x2="129" y2="99" stroke="#9a9a9a" stroke-width="0.6"/><line x1="121" y1="99" x2="121" y2="94.9" stroke="#9a9a9a" stroke-width="0.6"/><line x1="124.9" y1="99" x2="124.9" y2="94.9" stroke="#9a9a9a" stroke-width="0.6"/><line x1="129" y1="99" x2="129" y2="94.9" stroke="#9a9a9a" stroke-width="0.6"/><line x1="138.8" y1="74.9" x2="138.8" y2="70.3" stroke="#9a9a9a" stroke-width="0.6"/><line x1="138.8" y1="70.3" x2="138.8" y2="65.6" stroke="#9a9a9a" stroke-width="0.6"/><line x1="138.8" y1="65.6" x2="134.2" y2="60.8" stroke="#9a9a9a" stroke-width="0.6"/><line x1="138.8" y1="65.6" x2="143.5" y2="60.8" stroke="#9a9a9a" stroke-width="0.6"/><line x1="134.2" y1="60.8" x2="132" y2="56" stroke="#9a9a9a" stroke-width="0.6"/><line x1="134.2" y1="60.8" x2="136.6" y2="56" stroke="#9a9a9a" stroke-width="0.6"/><line x1="143.5" y1="60.8" x2="141.2" y2="56" stroke="#9a9a9a" stroke-width="0.6"/><line x1="143.5" y1="60.8" x2="145.7" y2="56" stroke="#9a9a9a" stroke-width="0.6"/><line x1="138.8" y1="74.9" x2="143.8" y2="74.9" stroke="#9a9a9a" stroke-width="0.6"/><line x1="131.7" y1="53" x2="146" y2="53" stroke="#9a9a9a" stroke-width="0.6"/><line x1="154.1" y1="59.2" x2="154.1" y2="54.8" stroke="#9a9a9a" stroke-width="0.6"/><line x1="154.1" y1="54.8" x2="154.1" y2="50" stroke="#9a9a9a" stroke-width="0.6"/><line x1="154.1" y1="50" x2="151.8" y2="45.8" stroke="#9a9a9a" stroke-width="0.6"/><line x1="154.1" y1="50" x2="156.5" y2="45.8" stroke="#9a9a9a" stroke-width="0.6"/><line x1="151.8" y1="45.8" x2="151.8" y2="40.9" stroke="#9a9a9a" stroke-width="0.6"/><line x1="156.5" y1="45.8" x2="156.5" y2="40.9" stroke="#9a9a9a" stroke-width="0.6"/><line x1="151.5" y1="38.2" x2="156.8" y2="38.2" stroke="#9a9a9a" stroke-width="0.6"/><line x1="178.9" y1="66.7" x2="178.9" y2="62.1" stroke="#9a9a9a" stroke-width="0.6"/><line x1="178.9" y1="62.1" x2="178.9" y2="57.9" stroke="#9a9a9a" stroke-width="0.6"/><line x1="178.9" y1="57.9" x2="176.4" y2="53.2" stroke="#9a9a9a" stroke-width="0.6"/><line x1="178.9" y1="57.9" x2="181.3" y2="53.2" stroke="#9a9a9a" stroke-width="0.6"/><line x1="176.4" y1="53.2" x2="176.4" y2="49" stroke="#9a9a9a" stroke-width="0.6"/><line x1="181.3" y1="53.2" x2="181.3" y2="49" stroke="#9a9a9a" stroke-width="0.6"/><line x1="176.4" y1="49" x2="176.4" y2="44.3" stroke="#9a9a9a" stroke-width="0.6"/><line x1="181.3" y1="49" x2="181.3" y2="44.3" stroke="#9a9a9a" stroke-width="0.6"/><line x1="178.9" y1="66.7" x2="183.8" y2="66.7" stroke="#9a9a9a" stroke-width="0.6"/><line x1="198.9" y1="82.1" x2="198.9" y2="77.6" stroke="#9a9a9a" stroke-width="0.6"/><line x1="198.9" y1="77.6" x2="198.9" y2="73" stroke="#9a9a9a" stroke-width="0.6"/><line x1="198.9" y1="73" x2="196.6" y2="68.7" stroke="#9a9a9a" stroke-width="0.6"/><line x1="198.9" y1="73" x2="201.1" y2="68.7" stroke="#9a9a9a" stroke-width="0.6"/><line x1="196.6" y1="68.7" x2="196.6" y2="63.8" stroke="#9a9a9a" stroke-width="0.6"/><line x1="201.1" y1="68.7" x2="201.1" y2="63.8" stroke="#9a9a9a" stroke-width="0.6"/><line x1="196.6" y1="63.8" x2="196.6" y2="59.6" stroke="#9a9a9a" stroke-width="0.6"/><line x1="201.1" y1="63.8" x2="201.1" y2="59.6" stroke="#9a9a9a" stroke-width="0.6"/><line x1="196.3" y1="56.8" x2="201.4" y2="56.8" stroke="#9a9a9a" stroke-width="0.6"/><line x1="203.9" y1="102.5" x2="203.9" y2="98.3" stroke="#9a9a9a" stroke-width="0.6"/><line x1="203.9" y1="98.3" x2="203.9" y2="94.3" stroke="#9a9a9a" stroke-width="0.6"/><line x1="203.9" y1="94.3" x2="201.9" y2="90.2" stroke="#9a9a9a" stroke-width="0.6"/><line x1="203.9" y1="94.3" x2="206" y2="90.2" stroke="#9a9a9a" stroke-width="0.6"/><line x1="203.9" y1="84.3" x2="203.9" y2="80.2" stroke="#9a9a9a" stroke-width="0.6"/><line x1="203.9" y1="80.2" x2="203.9" y2="76.1" stroke="#9a9a9a" stroke-width="0.6"/><line x1="203.9" y1="102.5" x2="208.3" y2="102.5" stroke="#9a9a9a" stroke-width="0.6"/><line x1="201.6" y1="88.2" x2="206.3" y2="88.2" stroke="#9a9a9a" stroke-width="0.6"/><line x1="232.2" y1="84" x2="232.2" y2="79.8" stroke="#9a9a9a" stroke-width="0.6"/><line x1="232.2" y1="79.8" x2="232.2" y2="75.4" stroke="#9a9a9a" stroke-width="0.6"/><line x1="232.2" y1="75.4" x2="229.7" y2="71" stroke="#9a9a9a" stroke-width="0.6"/><line x1="232.2" y1="75.4" x2="234.2" y2="71" stroke="#9a9a9a" stroke-width="0.6"/><line x1="229.7" y1="71" x2="229.7" y2="66.3" stroke="#9a9a9a" stroke-width="0.6"/><line x1="234.2" y1="71" x2="234.2" y2="66.3" stroke="#9a9a9a" stroke-width="0.6"/><line x1="229.7" y1="66.3" x2="229.7" y2="62" stroke="#9a9a9a" stroke-width="0.6"/><line x1="234.2" y1="66.3" x2="234.2" y2="62" stroke="#9a9a9a" stroke-width="0.6"/><line x1="229.7" y1="62" x2="229.7" y2="57.4" stroke="#9a9a9a" stroke-width="0.6"/><line x1="234.2" y1="62" x2="234.2" y2="57.4" stroke="#9a9a9a" stroke-width="0.6"/><line x1="232.2" y1="84" x2="236.9" y2="84" stroke="#9a9a9a" stroke-width="0.6"/><line x1="253.4" y1="104" x2="253.4" y2="100.3" stroke="#9a9a9a" stroke-width="0.6"/><line x1="253.4" y1="100.3" x2="253.4" y2="96.6" stroke="#9a9a9a" stroke-width="0.6"/><line x1="253.4" y1="96.6" x2="250.1" y2="92.7" stroke="#9a9a9a" stroke-width="0.6"/><line x1="253.4" y1="96.6" x2="257.3" y2="92.7" stroke="#9a9a9a" stroke-width="0.6"/><line x1="250.1" y1="92.7" x2="247.9" y2="88.8" stroke="#9a9a9a" stroke-width="0.6"/><line x1="250.1" y1="92.7" x2="251.8" y2="88.8" stroke="#9a9a9a" stroke-width="0.6"/><line x1="257.3" y1="92.7" x2="255.6" y2="88.8" stroke="#9a9a9a" stroke-width="0.6"/><line x1="257.3" y1="92.7" x2="259.3" y2="88.8" stroke="#9a9a9a" stroke-width="0.6"/><line x1="247.9" y1="88.8" x2="247.9" y2="85.1" stroke="#9a9a9a" stroke-width="0.6"/><line x1="251.8" y1="88.8" x2="251.8" y2="85.1" stroke="#9a9a9a" stroke-width="0.6"/><line x1="255.6" y1="88.8" x2="255.6" y2="85.1" stroke="#9a9a9a" stroke-width="0.6"/><line x1="259.3" y1="88.8" x2="259.3" y2="85.1" stroke="#9a9a9a" stroke-width="0.6"/><line x1="253.4" y1="104" x2="257.3" y2="104" stroke="#9a9a9a" stroke-width="0.6"/><line x1="247.6" y1="82.6" x2="259.6" y2="82.6" stroke="#9a9a9a" stroke-width="0.6"/><line x1="264.7" y1="67" x2="264.7" y2="62.8" stroke="#9a9a9a" stroke-width="0.6"/><line x1="264.7" y1="62.8" x2="264.7" y2="58.3" stroke="#9a9a9a" stroke-width="0.6"/><line x1="264.7" y1="58.3" x2="260.2" y2="53.7" stroke="#9a9a9a" stroke-width="0.6"/><line x1="264.7" y1="58.3" x2="269.1" y2="53.7" stroke="#9a9a9a" stroke-width="0.6"/><line x1="260.2" y1="53.7" x2="260.2" y2="49.3" stroke="#9a9a9a" stroke-width="0.6"/><line x1="269.1" y1="53.7" x2="269.1" y2="49.3" stroke="#9a9a9a" stroke-width="0.6"/><line x1="260.2" y1="49.3" x2="260.2" y2="44.8" stroke="#9a9a9a" stroke-width="0.6"/><line x1="269.1" y1="49.3" x2="269.1" y2="44.8" stroke="#9a9a9a" stroke-width="0.6"/><line x1="260.2" y1="44.8" x2="260.2" y2="40.3" stroke="#9a9a9a" stroke-width="0.6"/><line x1="269.1" y1="44.8" x2="269.1" y2="40.3" stroke="#9a9a9a" stroke-width="0.6"/><line x1="260.2" y1="49.3" x2="264.9" y2="49.3" stroke="#9a9a9a" stroke-width="0.6"/><line x1="269.1" y1="49.3" x2="273.6" y2="49.3" stroke="#9a9a9a" stroke-width="0.6"/><line x1="264.7" y1="67" x2="269.4" y2="67" stroke="#9a9a9a" stroke-width="0.6"/><line x1="275" y1="112.4" x2="275" y2="108.7" stroke="#9a9a9a" stroke-width="0.6"/><line x1="275" y1="108.7" x2="275" y2="105" stroke="#9a9a9a" stroke-width="0.6"/><line x1="275" y1="105" x2="272.8" y2="101.1" stroke="#9a9a9a" stroke-width="0.6"/><line x1="275" y1="105" x2="277" y2="101.1" stroke="#9a9a9a" stroke-width="0.6"/><line x1="272.8" y1="101.1" x2="272.8" y2="96.9" stroke="#9a9a9a" stroke-width="0.6"/><line x1="277" y1="101.1" x2="277" y2="96.9" stroke="#9a9a9a" stroke-width="0.6"/><line x1="272.8" y1="96.9" x2="273.1" y2="93" stroke="#9a9a9a" stroke-width="0.6"/><line x1="273.1" y1="93" x2="273.1" y2="89.3" stroke="#9a9a9a" stroke-width="0.6"/><line x1="275" y1="112.4" x2="279" y2="112.4" stroke="#9a9a9a" stroke-width="0.6"/><line x1="285.9" y1="75.1" x2="285.9" y2="70" stroke="#9a9a9a" stroke-width="0.6"/><line x1="285.9" y1="70" x2="285.9" y2="64.6" stroke="#9a9a9a" stroke-width="0.6"/><line x1="285.9" y1="64.6" x2="283.4" y2="59.6" stroke="#9a9a9a" stroke-width="0.6"/><line x1="285.9" y1="64.6" x2="289.1" y2="59.6" stroke="#9a9a9a" stroke-width="0.6"/><line x1="283.4" y1="59.6" x2="283.4" y2="54.4" stroke="#9a9a9a" stroke-width="0.6"/><line x1="289.1" y1="59.6" x2="289.1" y2="54.4" stroke="#9a9a9a" stroke-width="0.6"/><line x1="283.4" y1="54.4" x2="283.4" y2="49.5" stroke="#9a9a9a" stroke-width="0.6"/><line x1="289.1" y1="54.4" x2="289.1" y2="49.5" stroke="#9a9a9a" stroke-width="0.6"/><line x1="283.4" y1="49.5" x2="283.4" y2="44.3" stroke="#9a9a9a" stroke-width="0.6"/><line x1="289.1" y1="49.5" x2="289.1" y2="44.3" stroke="#9a9a9a" stroke-width="0.6"/><line x1="299.2" y1="115.7" x2="299.2" y2="111.5" stroke="#9a9a9a" stroke-width="0.6"/><line x1="299.2" y1="111.5" x2="299.2" y2="107.3" stroke="#9a9a9a" stroke-width="0.6"/><line x1="299.2" y1="107.3" x2="296.3" y2="102.8" stroke="#9a9a9a" stroke-width="0.6"/><line x1="299.2" y1="107.3" x2="302.5" y2="102.8" stroke="#9a9a9a" stroke-width="0.6"/><line x1="296.3" y1="102.8" x2="296" y2="98.3" stroke="#9a9a9a" stroke-width="0.6"/><line x1="302.5" y1="102.8" x2="300" y2="98.3" stroke="#9a9a9a" stroke-width="0.6"/><line x1="302.5" y1="102.8" x2="304.7" y2="98.3" stroke="#9a9a9a" stroke-width="0.6"/><line x1="296" y1="98.3" x2="296" y2="93.9" stroke="#9a9a9a" stroke-width="0.6"/><line x1="300" y1="98.3" x2="300" y2="93.9" stroke="#9a9a9a" stroke-width="0.6"/><line x1="304.7" y1="98.3" x2="304.7" y2="93.9" stroke="#9a9a9a" stroke-width="0.6"/><line x1="295.7" y1="91.2" x2="305" y2="91.2" stroke="#9a9a9a" stroke-width="0.6"/><circle cx="41.60" cy="66.90" r="1.1" fill="#269e4c"/><circle cx="38.80" cy="74.10" r="1.1" fill="#269e4c"/><circle cx="44.10" cy="74.10" r="1.1" fill="#269e4c"/><circle cx="41.60" cy="79.10" r="1.1" fill="#269e4c"/><rect x="40.60" y="83.10" width="2.0" height="2.0" fill="#2756b2"/><rect x="40.60" y="88.10" width="2.0" height="2.0" fill="#2756b2"/><circle cx="65.00" cy="89.10" r="1.1" fill="#e2dc26"/><rect x="59.00" y="95.40" width="2.0" height="2.0" fill="#2756b2"/><rect x="64.00" y="95.40" width="2.0" height="2.0" fill="#2756b2"/><rect x="69.00" y="95.40" width="2.0" height="2.0" fill="#2756b2"/><circle cx="60.00" cy="101.20" r="1.1" fill="#269e4c"/><circle cx="67.50" cy="101.20" r="1.1" fill="#269e4c"/><circle cx="63.70" cy="106.20" r="1.1" fill="#269e4c"/><rect x="62.70" y="110.30" width="2.0" height="2.0" fill="#2756b2"/><rect x="62.70" y="115.30" width="2.0" height="2.0" fill="#2756b2"/><path d="M84.00,52.25 L85.05,53.50 L84.00,54.75 L82.95,53.50 Z" fill="#9c3488"/><circle cx="84.00" cy="59.00" r="1.1" fill="#e2dc26"/><rect x="80.30" y="65.00" width="2.0" height="2.0" fill="#2756b2"/><rect x="85.60" y="65.00" width="2.0" height="2.0" fill="#2756b2"/><circle cx="81.30" cy="71.20" r="1.1" fill="#269e4c"/><circle cx="86.60" cy="71.20" r="1.1" fill="#269e4c"/><circle cx="84.00" cy="76.00" r="1.1" fill="#269e4c"/><rect x="83.10" y="80.10" width="2.0" height="2.0" fill="#2756b2"/><rect x="83.10" y="85.40" width="2.0" height="2.0" fill="#2756b2"/><circle cx="111.40" cy="34.40" r="1.1" fill="#269e4c"/><circle cx="106.80" cy="41.20" r="1.1" fill="#269e4c"/><circle cx="111.40" cy="41.20" r="1.1" fill="#269e4c"/><circle cx="116.00" cy="41.20" r="1.1" fill="#269e4c"/><circle cx="106.80" cy="45.90" r="1.1" fill="#269e4c"/><circle cx="113.80" cy="45.90" r="1.1" fill="#269e4c"/><circle cx="110.30" cy="50.80" r="1.1" fill="#269e4c"/><rect x="109.30" y="54.40" width="2.0" height="2.0" fill="#2756b2"/><rect x="109.30" y="59.00" width="2.0" height="2.0" fill="#2756b2"/><circle cx="121.00" cy="94.90" r="1.1" fill="#269e4c"/><circle cx="124.90" cy="94.90" r="1.1" fill="#269e4c"/><circle cx="129.00" cy="94.90" r="1.1" fill="#269e4c"/><circle cx="121.00" cy="99.00" r="1.1" fill="#269e4c"/><circle cx="124.90" cy="99.00" r="1.1" fill="#269e4c"/><circle cx="129.00" cy="99.00" r="1.1" fill="#269e4c"/><circle cx="121.00" cy="102.70" r="1.1" fill="#269e4c"/><circle cx="127.00" cy="102.70" r="1.1" fill="#269e4c"/><circle cx="124.00" cy="106.70" r="1.1" fill="#269e4c"/><rect x="123.00" y="109.70" width="2.0" height="2.0" fill="#2756b2"/><rect x="123.00" y="113.60" width="2.0" height="2.0" fill="#2756b2"/><circle cx="136.30" cy="49.30" r="1.1" fill="#e2dc26"/><circle cx="141.00" cy="49.30" r="1.1" fill="#e2dc26"/><rect x="131.00" y="55.00" width="2.0" height="2.0" fill="#2756b2"/><rect x="135.60" y="55.00" width="2.0" height="2.0" fill="#2756b2"/><rect x="140.20" y="55.00" width="2.0" height="2.0" fill="#2756b2"/><rect x="144.70" y="55.00" width="2.0" height="2.0" fill="#2756b2"/><circle cx="134.20" cy="60.80" r="1.1" fill="#269e4c"/><circle cx="143.50" cy="60.80" r="1.1" fill="#269e4c"/><circle cx="138.80" cy="65.60" r="1.1" fill="#269e4c"/><rect x="137.80" y="69.30" width="2.0" height="2.0" fill="#2756b2"/><rect x="137.80" y="73.90" width="2.0" height="2.0" fill="#2756b2"/><path d="M142.50,74.90 L144.90,73.70 L144.90,76.10 Z" fill="#e4485a"/><circle cx="154.00" cy="34.60" r="1.1" fill="#e2dc26"/><rect x="150.80" y="39.90" width="2.0" height="2.0" fill="#2756b2"/><rect x="155.50" y="39.90" width="2.0" height="2.0" fill="#2756b2"/><circle cx="151.80" cy="45.80" r="1.1" fill="#269e4c"/><circle cx="156.50" cy="45.80" r="1.1" fill="#269e4c"/><circle cx="154.10" cy="50.00" r="1.1" fill="#269e4c"/><rect x="153.10" y="53.80" width="2.0" height="2.0" fill="#2756b2"/><rect x="153.10" y="58.20" width="2.0" height="2.0" fill="#2756b2"/><circle cx="176.40" cy="44.30" r="1.1" fill="#e2dc26"/><circle cx="181.30" cy="44.30" r="1.1" fill="#e2dc26"/><rect x="175.40" y="48.00" width="2.0" height="2.0" fill="#2756b2"/><rect x="180.30" y="48.00" width="2.0" height="2.0" fill="#2756b2"/><circle cx="176.40" cy="53.20" r="1.1" fill="#269e4c"/><circle cx="181.30" cy="53.20" r="1.1" fill="#269e4c"/><circle cx="178.90" cy="57.90" r="1.1" fill="#269e4c"/><rect x="177.90" y="61.10" width="2.0" height="2.0" fill="#2756b2"/><rect x="177.90" y="65.70" width="2.0" height="2.0" fill="#2756b2"/><path d="M182.50,66.70 L184.90,65.50 L184.90,67.90 Z" fill="#e4485a"/><path d="M198.90,51.95 L199.95,53.20 L198.90,54.45 L197.85,53.20 Z" fill="#9c3488"/><circle cx="196.60" cy="59.60" r="1.1" fill="#e2dc26"/><circle cx="201.10" cy="59.60" r="1.1" fill="#e2dc26"/><rect x="195.60" y="62.80" width="2.0" height="2.0" fill="#2756b2"/><rect x="200.10" y="62.80" width="2.0" height="2.0" fill="#2756b2"/><circle cx="196.60" cy="68.70" r="1.1" fill="#269e4c"/><circle cx="201.10" cy="68.70" r="1.1" fill="#269e4c"/><circle cx="198.90" cy="73.00" r="1.1" fill="#269e4c"/><rect x="197.90" y="76.60" width="2.0" height="2.0" fill="#2756b2"/><rect x="197.90" y="81.10" width="2.0" height="2.0" fill="#2756b2"/><path d="M203.90,74.85 L204.95,76.10 L203.90,77.35 L202.85,76.10 Z" fill="#9c3488"/><circle cx="203.90" cy="80.20" r="1.1" fill="#e2dc26"/><rect x="202.90" y="83.30" width="2.0" height="2.0" fill="#2756b2"/><circle cx="201.90" cy="90.20" r="1.1" fill="#269e4c"/><circle cx="206.00" cy="90.20" r="1.1" fill="#269e4c"/><circle cx="203.90" cy="94.30" r="1.1" fill="#269e4c"/><rect x="202.90" y="97.30" width="2.0" height="2.0" fill="#2756b2"/><rect x="202.90" y="101.50" width="2.0" height="2.0" fill="#2756b2"/><path d="M207.00,102.50 L209.40,101.30 L209.40,103.70 Z" fill="#e4485a"/><path d="M229.70,56.15 L230.75,57.40 L229.70,58.65 L228.65,57.40 Z" fill="#9c3488"/><path d="M234.20,56.15 L235.25,57.40 L234.20,58.65 L233.15,57.40 Z" fill="#9c3488"/><circle cx="229.70" cy="62.00" r="1.1" fill="#e2dc26"/><circle cx="234.20" cy="62.00" r="1.1" fill="#e2dc26"/><rect x="228.70" y="65.30" width="2.0" height="2.0" fill="#2756b2"/><rect x="233.20" y="65.30" width="2.0" height="2.0" fill="#2756b2"/><circle cx="229.70" cy="71.00" r="1.1" fill="#269e4c"/><circle cx="234.20" cy="71.00" r="1.1" fill="#269e4c"/><circle cx="232.20" cy="75.40" r="1.1" fill="#269e4c"/><rect x="231.20" y="78.80" width="2.0" height="2.0" fill="#2756b2"/><rect x="231.20" y="83.00" width="2.0" height="2.0" fill="#2756b2"/><path d="M235.60,84.00 L238.00,82.80 L238.00,85.20 Z" fill="#e4485a"/><path d="M251.80,78.55 L252.85,79.80 L251.80,81.05 L250.75,79.80 Z" fill="#9c3488"/><path d="M255.50,78.55 L256.55,79.80 L255.50,81.05 L254.45,79.80 Z" fill="#9c3488"/><circle cx="247.90" cy="85.10" r="1.1" fill="#e2dc26"/><circle cx="251.80" cy="85.10" r="1.1" fill="#e2dc26"/><circle cx="255.60" cy="85.10" r="1.1" fill="#e2dc26"/><circle cx="259.30" cy="85.10" r="1.1" fill="#e2dc26"/><rect x="246.90" y="87.80" width="2.0" height="2.0" fill="#2756b2"/><rect x="250.80" y="87.80" width="2.0" height="2.0" fill="#2756b2"/><rect x="254.60" y="87.80" width="2.0" height="2.0" fill="#2756b2"/><rect x="258.30" y="87.80" width="2.0" height="2.0" fill="#2756b2"/><circle cx="250.10" cy="92.70" r="1.1" fill="#269e4c"/><circle cx="257.30" cy="92.70" r="1.1" fill="#269e4c"/><circle cx="253.40" cy="96.60" r="1.1" fill="#269e4c"/><rect x="252.40" y="99.30" width="2.0" height="2.0" fill="#2756b2"/><rect x="252.40" y="103.00" width="2.0" height="2.0" fill="#2756b2"/><path d="M256.00,104.00 L258.40,102.80 L258.40,105.20 Z" fill="#e4485a"/><path d="M260.20,39.05 L261.25,40.30 L260.20,41.55 L259.15,40.30 Z" fill="#9c3488"/><path d="M269.10,39.05 L270.15,40.30 L269.10,41.55 L268.05,40.30 Z" fill="#9c3488"/><circle cx="260.20" cy="44.80" r="1.1" fill="#e2dc26"/><circle cx="269.10" cy="44.80" r="1.1" fill="#e2dc26"/><rect x="259.20" y="48.30" width="2.0" height="2.0" fill="#2756b2"/><rect x="268.10" y="48.30" width="2.0" height="2.0" fill="#2756b2"/><path d="M263.60,49.30 L266.00,48.10 L266.00,50.50 Z" fill="#e4485a"/><path d="M272.30,49.30 L274.70,48.10 L274.70,50.50 Z" fill="#e4485a"/><circle cx="260.20" cy="53.70" r="1.1" fill="#269e4c"/><circle cx="269.10" cy="53.70" r="1.1" fill="#269e4c"/><circle cx="264.70" cy="58.30" r="1.1" fill="#269e4c"/><rect x="263.70" y="61.80" width="2.0" height="2.0" fill="#2756b2"/><rect x="263.70" y="66.00" width="2.0" height="2.0" fill="#2756b2"/><path d="M268.10,67.00 L270.50,65.80 L270.50,68.20 Z" fill="#e4485a"/><path d="M273.10,88.05 L274.15,89.30 L273.10,90.55 L272.05,89.30 Z" fill="#9c3488"/><circle cx="273.10" cy="93.00" r="1.1" fill="#e2dc26"/><rect x="271.80" y="95.90" width="2.0" height="2.0" fill="#2756b2"/><rect x="276.00" y="95.90" width="2.0" height="2.0" fill="#2756b2"/><circle cx="272.80" cy="101.10" r="1.1" fill="#269e4c"/><circle cx="277.00" cy="101.10" r="1.1" fill="#269e4c"/><circle cx="275.00" cy="105.00" r="1.1" fill="#269e4c"/><rect x="274.00" y="107.70" width="2.0" height="2.0" fill="#2756b2"/><rect x="274.00" y="111.40" width="2.0" height="2.0" fill="#2756b2"/><path d="M277.70,112.40 L280.10,111.20 L280.10,113.60 Z" fill="#e4485a"/><path d="M283.40,43.05 L284.45,44.30 L283.40,45.55 L282.35,44.30 Z" fill="#9c3488"/><path d="M289.10,43.05 L290.15,44.30 L289.10,45.55 L288.05,44.30 Z" fill="#9c3488"/><circle cx="283.40" cy="49.50" r="1.1" fill="#e2dc26"/><circle cx="289.10" cy="49.50" r="1.1" fill="#e2dc26"/><rect x="282.40" y="53.40" width="2.0" height="2.0" fill="#2756b2"/><rect x="288.10" y="53.40" width="2.0" height="2.0" fill="#2756b2"/><circle cx="283.40" cy="59.60" r="1.1" fill="#269e4c"/><circle cx="289.10" cy="59.60" r="1.1" fill="#269e4c"/><circle cx="285.90" cy="64.60" r="1.1" fill="#269e4c"/><rect x="284.90" y="69.00" width="2.0" height="2.0" fill="#2756b2"/><rect x="284.90" y="74.10" width="2.0" height="2.0" fill="#2756b2"/><path d="M300.00,86.45 L301.05,87.70 L300.00,88.95 L298.95,87.70 Z" fill="#9c3488"/><circle cx="296.00" cy="93.90" r="1.1" fill="#e2dc26"/><circle cx="300.00" cy="93.90" r="1.1" fill="#e2dc26"/><circle cx="304.70" cy="93.90" r="1.1" fill="#e2dc26"/><rect x="295.00" y="97.30" width="2.0" height="2.0" fill="#2756b2"/><rect x="299.00" y="97.30" width="2.0" height="2.0" fill="#2756b2"/><rect x="303.70" y="97.30" width="2.0" height="2.0" fill="#2756b2"/><circle cx="296.30" cy="102.80" r="1.1" fill="#269e4c"/><circle cx="302.50" cy="102.80" r="1.1" fill="#269e4c"/><circle cx="299.20" cy="107.30" r="1.1" fill="#269e4c"/><rect x="298.20" y="110.50" width="2.0" height="2.0" fill="#2756b2"/><rect x="298.20" y="114.70" width="2.0" height="2.0" fill="#2756b2"/></g><rect x="383.5" y="29.5" width="288" height="103" fill="none" stroke="#555" stroke-width="1"/><text x="385.6" y="39.5" font-size="8.45" text-anchor="start" fill="#222" stroke="#222" stroke-width="0.22" style="font-family:'Liberation Sans', sans-serif;font-weight:bold;">MS1 Scan</text><rect x="20.10" y="140.50" width="78.15" height="28.75" fill="none" stroke="#5a9892" stroke-width="1.1"/><rect x="28.70" y="147.30" width="1.4" height="21.90" fill="#198a80"/><rect x="40.10" y="156.00" width="1.4" height="13.20" fill="#198a80"/><rect x="51.10" y="164.40" width="1.4" height="4.80" fill="#198a80"/><rect x="62.50" y="154.80" width="1.4" height="14.40" fill="#198a80"/><rect x="73.70" y="159.50" width="1.4" height="9.70" fill="#198a80"/><rect x="85.10" y="146.90" width="1.4" height="22.30" fill="#198a80"/><rect x="50.20" y="173.40" width="78.35" height="29.05" fill="none" stroke="#965058" stroke-width="1.1"/><rect x="59.10" y="193.90" width="1.4" height="8.50" fill="#8b2a2e"/><rect x="70.30" y="182.80" width="1.4" height="19.60" fill="#8b2a2e"/><rect x="81.60" y="192.00" width="1.4" height="10.40" fill="#8b2a2e"/><rect x="92.80" y="197.20" width="1.4" height="5.20" fill="#8b2a2e"/><rect x="104.20" y="191.00" width="1.4" height="11.40" fill="#8b2a2e"/><rect x="115.60" y="180.50" width="1.4" height="21.90" fill="#8b2a2e"/><rect x="81.00" y="207.30" width="78.25" height="28.65" fill="none" stroke="#bc9888" stroke-width="1.1"/><rect x="89.50" y="214.50" width="1.4" height="21.40" fill="#dc7a34"/><rect x="100.60" y="223.10" width="1.4" height="12.80" fill="#dc7a34"/><rect x="112.10" y="226.30" width="1.4" height="9.60" fill="#dc7a34"/><rect x="123.40" y="221.00" width="1.4" height="14.90" fill="#dc7a34"/><rect x="134.70" y="224.40" width="1.4" height="11.50" fill="#dc7a34"/><rect x="146.00" y="219.00" width="1.4" height="16.90" fill="#dc7a34"/><rect x="111.50" y="240.40" width="77.95" height="29.05" fill="none" stroke="#b45c98" stroke-width="1.1"/><rect x="120.30" y="254.40" width="1.4" height="15.00" fill="#b0308e"/><rect x="131.30" y="261.00" width="1.4" height="8.40" fill="#b0308e"/><rect x="142.60" y="253.90" width="1.4" height="15.50" fill="#b0308e"/><rect x="153.90" y="254.60" width="1.4" height="14.80" fill="#b0308e"/><rect x="165.50" y="260.00" width="1.4" height="9.40" fill="#b0308e"/><rect x="176.80" y="247.30" width="1.4" height="22.10" fill="#b0308e"/><rect x="142.60" y="273.90" width="77.45" height="29.35" fill="none" stroke="#7c98c8" stroke-width="1.1"/><rect x="153.50" y="281.30" width="1.4" height="21.90" fill="#3a7ac2"/><rect x="165.00" y="291.30" width="1.4" height="11.90" fill="#3a7ac2"/><rect x="176.30" y="297.60" width="1.4" height="5.60" fill="#3a7ac2"/><rect x="187.60" y="292.00" width="1.4" height="11.20" fill="#3a7ac2"/><rect x="198.90" y="282.90" width="1.4" height="20.30" fill="#3a7ac2"/><rect x="210.20" y="294.40" width="1.4" height="8.80" fill="#3a7ac2"/><rect x="172.80" y="307.50" width="78.25" height="28.95" fill="none" stroke="#846454" stroke-width="1.1"/><rect x="184.50" y="320.20" width="1.4" height="16.20" fill="#5a3a28"/><rect x="195.80" y="325.20" width="1.4" height="11.20" fill="#5a3a28"/><rect x="207.10" y="321.50" width="1.4" height="14.90" fill="#5a3a28"/><rect x="218.40" y="327.00" width="1.4" height="9.40" fill="#5a3a28"/><rect x="229.70" y="323.60" width="1.4" height="12.80" fill="#5a3a28"/><rect x="241.00" y="314.90" width="1.4" height="21.50" fill="#5a3a28"/><rect x="384.60" y="140.50" width="77.75" height="28.45" fill="none" stroke="#5a9892" stroke-width="1.1"/><rect x="390.20" y="152.00" width="1.4" height="16.90" fill="#198a80"/><rect x="393.30" y="147.30" width="1.4" height="21.60" fill="#198a80"/><rect x="399.10" y="142.50" width="1.4" height="26.40" fill="#198a80"/><rect x="404.30" y="156.00" width="1.4" height="12.90" fill="#198a80"/><rect x="415.60" y="151.10" width="1.4" height="17.80" fill="#198a80"/><rect x="422.40" y="163.90" width="1.4" height="5.00" fill="#198a80"/><rect x="431.90" y="157.40" width="1.4" height="11.50" fill="#198a80"/><rect x="441.10" y="152.20" width="1.4" height="16.70" fill="#198a80"/><rect x="449.60" y="146.90" width="1.4" height="22.00" fill="#198a80"/><rect x="415.20" y="173.40" width="77.85" height="29.05" fill="none" stroke="#965058" stroke-width="1.1"/><rect x="423.60" y="194.00" width="1.4" height="8.40" fill="#8b2a2e"/><rect x="435.00" y="182.80" width="1.4" height="19.60" fill="#8b2a2e"/><rect x="441.00" y="180.50" width="1.4" height="21.90" fill="#8b2a2e"/><rect x="446.20" y="192.00" width="1.4" height="10.40" fill="#8b2a2e"/><rect x="451.50" y="186.90" width="1.4" height="15.50" fill="#8b2a2e"/><rect x="457.60" y="197.20" width="1.4" height="5.20" fill="#8b2a2e"/><rect x="462.30" y="176.00" width="1.4" height="26.40" fill="#8b2a2e"/><rect x="468.80" y="191.00" width="1.4" height="11.40" fill="#8b2a2e"/><rect x="474.40" y="180.50" width="1.4" height="21.90" fill="#8b2a2e"/><rect x="480.20" y="186.20" width="1.4" height="16.20" fill="#8b2a2e"/><rect x="445.50" y="207.30" width="78.25" height="28.65" fill="none" stroke="#bc9888" stroke-width="1.1"/><rect x="449.80" y="208.00" width="1.4" height="27.90" fill="#dc7a34"/><rect x="454.30" y="213.90" width="1.4" height="22.00" fill="#dc7a34"/><rect x="458.50" y="224.20" width="1.4" height="11.70" fill="#dc7a34"/><rect x="465.30" y="223.10" width="1.4" height="12.80" fill="#dc7a34"/><rect x="470.80" y="211.00" width="1.4" height="24.90" fill="#dc7a34"/><rect x="476.90" y="225.70" width="1.4" height="10.20" fill="#dc7a34"/><rect x="483.20" y="224.20" width="1.4" height="11.70" fill="#dc7a34"/><rect x="488.20" y="221.00" width="1.4" height="14.90" fill="#dc7a34"/><rect x="499.50" y="215.00" width="1.4" height="20.90" fill="#dc7a34"/><rect x="510.80" y="218.90" width="1.4" height="17.00" fill="#dc7a34"/><rect x="516.00" y="211.00" width="1.4" height="24.90" fill="#dc7a34"/><rect x="476.50" y="240.40" width="77.45" height="29.05" fill="none" stroke="#b45c98" stroke-width="1.1"/><rect x="487.90" y="247.30" width="1.4" height="22.10" fill="#b0308e"/><rect x="495.80" y="253.10" width="1.4" height="16.30" fill="#b0308e"/><rect x="505.50" y="257.80" width="1.4" height="11.60" fill="#b0308e"/><rect x="515.00" y="263.80" width="1.4" height="5.60" fill="#b0308e"/><rect x="521.80" y="251.00" width="1.4" height="18.40" fill="#b0308e"/><rect x="532.80" y="256.00" width="1.4" height="13.40" fill="#b0308e"/><rect x="538.30" y="242.80" width="1.4" height="26.60" fill="#b0308e"/><rect x="544.10" y="247.80" width="1.4" height="21.60" fill="#b0308e"/><rect x="547.00" y="252.50" width="1.4" height="16.90" fill="#b0308e"/><rect x="506.80" y="273.90" width="77.45" height="29.35" fill="none" stroke="#7c98c8" stroke-width="1.1"/><rect x="518.20" y="286.50" width="1.4" height="16.70" fill="#3a7ac2"/><rect x="524.00" y="281.00" width="1.4" height="22.20" fill="#3a7ac2"/><rect x="529.80" y="291.30" width="1.4" height="11.90" fill="#3a7ac2"/><rect x="536.10" y="276.30" width="1.4" height="26.90" fill="#3a7ac2"/><rect x="540.80" y="297.30" width="1.4" height="5.90" fill="#3a7ac2"/><rect x="546.90" y="287.10" width="1.4" height="16.10" fill="#3a7ac2"/><rect x="552.10" y="292.10" width="1.4" height="11.10" fill="#3a7ac2"/><rect x="557.40" y="281.00" width="1.4" height="22.20" fill="#3a7ac2"/><rect x="563.10" y="283.40" width="1.4" height="19.80" fill="#3a7ac2"/><rect x="574.70" y="293.90" width="1.4" height="9.30" fill="#3a7ac2"/><rect x="537.20" y="307.50" width="78.05" height="28.95" fill="none" stroke="#846454" stroke-width="1.1"/><rect x="543.20" y="311.20" width="1.4" height="25.20" fill="#5a3a28"/><rect x="548.40" y="319.60" width="1.4" height="16.80" fill="#5a3a28"/><rect x="560.00" y="315.40" width="1.4" height="21.00" fill="#5a3a28"/><rect x="570.80" y="321.50" width="1.4" height="14.90" fill="#5a3a28"/><rect x="575.80" y="324.90" width="1.4" height="11.50" fill="#5a3a28"/><rect x="582.10" y="326.70" width="1.4" height="9.70" fill="#5a3a28"/><rect x="588.90" y="311.20" width="1.4" height="25.20" fill="#5a3a28"/><rect x="593.90" y="323.30" width="1.4" height="13.10" fill="#5a3a28"/><rect x="600.70" y="324.90" width="1.4" height="11.50" fill="#5a3a28"/><rect x="605.20" y="314.90" width="1.4" height="21.50" fill="#5a3a28"/><rect x="609.70" y="308.40" width="1.4" height="28.00" fill="#5a3a28"/><text x="167.6" y="227.0" font-size="8.35" text-anchor="start" fill="#222" stroke="#222" stroke-width="0.22" style="font-family:'Liberation Sans', sans-serif;font-weight:bold;">DDA MS2 Scans</text><text x="532.6" y="227.0" font-size="8.45" text-anchor="start" fill="#222" stroke="#222" stroke-width="0.22" style="font-family:'Liberation Sans', sans-serif;font-weight:bold;">DIA MS2 Scans</text><rect x="234.70" y="342.10" width="1.8" height="1.8" fill="#262626"/><rect x="238.44" y="342.10" width="1.8" height="1.8" fill="#262626"/><rect x="242.17" y="342.10" width="1.8" height="1.8" fill="#262626"/><rect x="245.91" y="342.10" width="1.8" height="1.8" fill="#262626"/><rect x="249.65" y="342.10" width="1.8" height="1.8" fill="#262626"/><rect x="253.38" y="342.10" width="1.8" height="1.8" fill="#262626"/><rect x="257.12" y="342.10" width="1.8" height="1.8" fill="#262626"/><rect x="260.85" y="342.10" width="1.8" height="1.8" fill="#262626"/><rect x="264.59" y="342.10" width="1.8" height="1.8" fill="#262626"/><rect x="268.33" y="342.10" width="1.8" height="1.8" fill="#262626"/><rect x="272.06" y="342.10" width="1.8" height="1.8" fill="#262626"/><rect x="275.80" y="342.10" width="1.8" height="1.8" fill="#262626"/><rect x="262.00" y="357.10" width="1.8" height="1.8" fill="#262626"/><rect x="265.72" y="357.10" width="1.8" height="1.8" fill="#262626"/><rect x="269.44" y="357.10" width="1.8" height="1.8" fill="#262626"/><rect x="273.15" y="357.10" width="1.8" height="1.8" fill="#262626"/><rect x="276.87" y="357.10" width="1.8" height="1.8" fill="#262626"/><rect x="280.59" y="357.10" width="1.8" height="1.8" fill="#262626"/><rect x="284.31" y="357.10" width="1.8" height="1.8" fill="#262626"/><rect x="288.03" y="357.10" width="1.8" height="1.8" fill="#262626"/><rect x="291.75" y="357.10" width="1.8" height="1.8" fill="#262626"/><rect x="295.46" y="357.10" width="1.8" height="1.8" fill="#262626"/><rect x="299.18" y="357.10" width="1.8" height="1.8" fill="#262626"/><rect x="302.90" y="357.10" width="1.8" height="1.8" fill="#262626"/><rect x="601.50" y="342.10" width="1.8" height="1.8" fill="#262626"/><rect x="605.22" y="342.10" width="1.8" height="1.8" fill="#262626"/><rect x="608.94" y="342.10" width="1.8" height="1.8" fill="#262626"/><rect x="612.65" y="342.10" width="1.8" height="1.8" fill="#262626"/><rect x="616.37" y="342.10" width="1.8" height="1.8" fill="#262626"/><rect x="620.09" y="342.10" width="1.8" height="1.8" fill="#262626"/><rect x="623.81" y="342.10" width="1.8" height="1.8" fill="#262626"/><rect x="627.53" y="342.10" width="1.8" height="1.8" fill="#262626"/><rect x="631.25" y="342.10" width="1.8" height="1.8" fill="#262626"/><rect x="634.96" y="342.10" width="1.8" height="1.8" fill="#262626"/><rect x="638.68" y="342.10" width="1.8" height="1.8" fill="#262626"/><rect x="642.40" y="342.10" width="1.8" height="1.8" fill="#262626"/><rect x="629.00" y="357.10" width="1.8" height="1.8" fill="#262626"/><rect x="632.71" y="357.10" width="1.8" height="1.8" fill="#262626"/><rect x="636.42" y="357.10" width="1.8" height="1.8" fill="#262626"/><rect x="640.13" y="357.10" width="1.8" height="1.8" fill="#262626"/><rect x="643.84" y="357.10" width="1.8" height="1.8" fill="#262626"/><rect x="647.55" y="357.10" width="1.8" height="1.8" fill="#262626"/><rect x="651.25" y="357.10" width="1.8" height="1.8" fill="#262626"/><rect x="654.96" y="357.10" width="1.8" height="1.8" fill="#262626"/><rect x="658.67" y="357.10" width="1.8" height="1.8" fill="#262626"/><rect x="662.38" y="357.10" width="1.8" height="1.8" fill="#262626"/><rect x="666.09" y="357.10" width="1.8" height="1.8" fill="#262626"/><rect x="669.80" y="357.10" width="1.8" height="1.8" fill="#262626"/><rect x="71.17" y="585.50" width="6.44" height="32.40" fill="#7aa6d9" stroke="#24599f" stroke-width="1.45"/><rect x="77.61" y="551.51" width="6.44" height="66.39" fill="#7aa6d9" stroke="#24599f" stroke-width="1.45"/><rect x="84.05" y="528.20" width="6.44" height="89.70" fill="#7aa6d9" stroke="#24599f" stroke-width="1.45"/><rect x="90.50" y="476.62" width="6.44" height="141.28" fill="#7aa6d9" stroke="#24599f" stroke-width="1.45"/><rect x="96.94" y="381.38" width="6.44" height="236.52" fill="#7aa6d9" stroke="#24599f" stroke-width="1.45"/><rect x="103.38" y="422.28" width="6.44" height="195.62" fill="#7aa6d9" stroke="#24599f" stroke-width="1.45"/><rect x="109.83" y="401.54" width="6.44" height="216.36" fill="#7aa6d9" stroke="#24599f" stroke-width="1.45"/><rect x="116.27" y="391.26" width="6.44" height="226.64" fill="#7aa6d9" stroke="#24599f" stroke-width="1.45"/><rect x="122.71" y="442.64" width="6.44" height="175.26" fill="#7aa6d9" stroke="#24599f" stroke-width="1.45"/><rect x="129.16" y="448.56" width="6.44" height="169.34" fill="#7aa6d9" stroke="#24599f" stroke-width="1.45"/><rect x="135.60" y="517.92" width="6.44" height="99.98" fill="#7aa6d9" stroke="#24599f" stroke-width="1.45"/><rect x="142.04" y="559.62" width="6.44" height="58.28" fill="#7aa6d9" stroke="#24599f" stroke-width="1.45"/><rect x="148.49" y="564.36" width="6.44" height="53.54" fill="#7aa6d9" stroke="#24599f" stroke-width="1.45"/><rect x="154.93" y="573.64" width="6.44" height="44.26" fill="#7aa6d9" stroke="#24599f" stroke-width="1.45"/><rect x="161.37" y="574.63" width="6.44" height="43.27" fill="#7aa6d9" stroke="#24599f" stroke-width="1.45"/><rect x="167.82" y="596.17" width="6.44" height="21.73" fill="#7aa6d9" stroke="#24599f" stroke-width="1.45"/><rect x="174.26" y="591.43" width="6.44" height="26.47" fill="#7aa6d9" stroke="#24599f" stroke-width="1.45"/><rect x="180.70" y="600.52" width="6.44" height="17.38" fill="#7aa6d9" stroke="#24599f" stroke-width="1.45"/><rect x="187.15" y="607.24" width="6.44" height="10.66" fill="#7aa6d9" stroke="#24599f" stroke-width="1.45"/><rect x="193.59" y="611.39" width="6.44" height="6.51" fill="#7aa6d9" stroke="#24599f" stroke-width="1.45"/><rect x="200.04" y="615.54" width="6.44" height="2.36" fill="#7aa6d9" stroke="#24599f" stroke-width="1.45"/><rect x="206.48" y="614.75" width="6.44" height="3.15" fill="#7aa6d9" stroke="#24599f" stroke-width="1.45"/><rect x="212.92" y="616.52" width="6.44" height="1.38" fill="#7aa6d9" stroke="#24599f" stroke-width="1.45"/><rect x="219.37" y="615.54" width="6.44" height="2.36" fill="#7aa6d9" stroke="#24599f" stroke-width="1.45"/><polyline points="48.61,618.50 55.06,618.10 61.50,617.71 67.94,617.12 74.39,585.50 80.83,551.51 87.27,528.20 93.72,476.62 100.16,381.38 106.60,422.28 113.05,401.54 119.49,391.26 125.94,442.64 132.38,448.56 138.82,517.92 145.27,559.62 151.71,564.36 158.15,573.64 164.60,574.63 171.04,596.17 177.48,591.43 183.93,600.52 190.37,607.24 196.81,611.39 203.26,615.54 209.70,614.75 216.14,616.52 222.59,615.54 229.03,617.51 235.47,616.52 241.92,617.51 248.36,616.72" fill="none" stroke="#c21a2e" stroke-width="1.9" stroke-linejoin="round"/><path d="M48.8,381.3 H254.7 V618.4 H48.8 Z" fill="none" stroke="#111" stroke-width="1.1"/><line x1="42.5" y1="618.50" x2="48.8" y2="618.50" stroke="#111" stroke-width="1.1"/><line x1="42.5" y1="539.46" x2="48.8" y2="539.46" stroke="#111" stroke-width="1.1"/><line x1="42.5" y1="460.42" x2="48.8" y2="460.42" stroke="#111" stroke-width="1.1"/><line x1="42.5" y1="381.38" x2="48.8" y2="381.38" stroke="#111" stroke-width="1.1"/><line x1="45.2" y1="578.98" x2="48.8" y2="578.98" stroke="#111" stroke-width="1.1"/><line x1="45.2" y1="499.94" x2="48.8" y2="499.94" stroke="#111" stroke-width="1.1"/><line x1="45.2" y1="420.90" x2="48.8" y2="420.90" stroke="#111" stroke-width="1.1"/><line x1="61.50" y1="618.3" x2="61.50" y2="624.5" stroke="#111" stroke-width="1.1"/><line x1="125.94" y1="618.3" x2="125.94" y2="624.5" stroke="#111" stroke-width="1.1"/><line x1="190.37" y1="618.3" x2="190.37" y2="624.5" stroke="#111" stroke-width="1.1"/><line x1="254.81" y1="618.3" x2="254.81" y2="624.5" stroke="#111" stroke-width="1.1"/><line x1="93.72" y1="618.3" x2="93.72" y2="621.7" stroke="#111" stroke-width="1.1"/><line x1="158.15" y1="618.3" x2="158.15" y2="621.7" stroke="#111" stroke-width="1.1"/><line x1="222.59" y1="618.3" x2="222.59" y2="621.7" stroke="#111" stroke-width="1.1"/><text x="38.9" y="620.4" font-size="7" text-anchor="end" fill="#161616" stroke="#161616" stroke-width="0.22" style="font-family:'Liberation Sans', sans-serif;font-weight:bold;">0</text><text x="38.9" y="541.36" font-size="7" text-anchor="end" fill="#161616" stroke="#161616" stroke-width="0.22" style="font-family:'Liberation Sans', sans-serif;font-weight:bold;">4</text><text x="38.3" y="462.31999999999994" font-size="7" text-anchor="end" fill="#161616" stroke="#161616" stroke-width="0.22" style="font-family:'Liberation Sans', sans-serif;font-weight:bold;">8</text><text x="37.2" y="383.28" font-size="7" text-anchor="end" fill="#161616" stroke="#161616" stroke-width="0.22" style="font-family:'Liberation Sans', sans-serif;font-weight:bold;">12</text><text x="63" y="631.9" font-size="7" text-anchor="middle" fill="#161616" stroke="#161616" stroke-width="0.22" style="font-family:'Liberation Sans', sans-serif;font-weight:bold;">500</text><text x="126.7" y="631.9" font-size="7" text-anchor="middle" fill="#161616" stroke="#161616" stroke-width="0.22" style="font-family:'Liberation Sans', sans-serif;font-weight:bold;">1000</text><text x="191" y="631.9" font-size="7" text-anchor="middle" fill="#161616" stroke="#161616" stroke-width="0.22" style="font-family:'Liberation Sans', sans-serif;font-weight:bold;">1500</text><text x="255.4" y="631.9" font-size="7" text-anchor="middle" fill="#161616" stroke="#161616" stroke-width="0.22" style="font-family:'Liberation Sans', sans-serif;font-weight:bold;">2000</text><text x="159.6" y="636" font-size="7" text-anchor="middle" fill="#161616" stroke="#161616" stroke-width="0.22" style="font-family:'Liberation Sans', sans-serif;font-weight:bold;font-style:italic;">m/z</text><g transform="translate(10.4,492.3) rotate(-90)"><text x="0" y="0" font-size="7" text-anchor="middle" fill="#161616" stroke="#161616" stroke-width="0.22" style="font-family:'Liberation Sans', sans-serif;font-weight:bold;">Percent of</text></g><g transform="translate(21.3,495.6) rotate(-90)"><text x="0" y="0" font-size="7" text-anchor="middle" fill="#161616" stroke="#161616" stroke-width="0.22" style="font-family:'Liberation Sans', sans-serif;font-weight:bold;">Glycans in Library (%)</text></g><text x="480.5" y="396.1" font-size="8.45" text-anchor="middle" fill="#4c5351" stroke="#4c5351" stroke-width="0.22" style="font-family:'Liberation Sans', sans-serif;font-weight:bold;">3rd round MS1 Scan</text><text x="483.7" y="439.9" font-size="8.45" text-anchor="middle" fill="#5a3530" stroke="#5a3530" stroke-width="0.22" style="font-family:'Liberation Sans', sans-serif;font-weight:bold;">2nd round MS2 Scan</text><text x="483.9" y="504.9" font-size="8.45" text-anchor="middle" fill="#4c5351" stroke="#4c5351" stroke-width="0.22" style="font-family:'Liberation Sans', sans-serif;font-weight:bold;">2nd round MS1 Scan</text><text x="484.4" y="547.3" font-size="8.45" text-anchor="middle" fill="#5a3530" stroke="#5a3530" stroke-width="0.22" style="font-family:'Liberation Sans', sans-serif;font-weight:bold;">1st round MS2 Scan</text><text x="484.1" y="609.6" font-size="8.45" text-anchor="middle" fill="#4c5351" stroke="#4c5351" stroke-width="0.22" style="font-family:'Liberation Sans', sans-serif;font-weight:bold;">1st round MS1 Scan</text><line x1="304.50" y1="504.70" x2="304.50" y2="606.30" stroke="#e0e0e0" stroke-width="0.6"/><line x1="304.50" y1="504.70" x2="304.50" y2="606.30" stroke="#8c8c8c" stroke-width="1.05" stroke-dasharray="4.4 4.8" stroke-dashoffset="2.35" stroke-opacity="0.9"/><line x1="311.92" y1="502.76" x2="311.92" y2="604.36" stroke="#e0e0e0" stroke-width="0.6"/><line x1="311.92" y1="502.76" x2="311.92" y2="604.36" stroke="#8c8c8c" stroke-width="1.05" stroke-dasharray="4.4 4.8" stroke-dashoffset="2.35" stroke-opacity="0.9"/><line x1="319.35" y1="500.82" x2="319.35" y2="602.42" stroke="#e0e0e0" stroke-width="0.6"/><line x1="319.35" y1="500.82" x2="319.35" y2="602.42" stroke="#8c8c8c" stroke-width="1.05" stroke-dasharray="4.4 4.8" stroke-dashoffset="2.35" stroke-opacity="0.9"/><line x1="326.77" y1="498.88" x2="326.77" y2="600.48" stroke="#e0e0e0" stroke-width="0.6"/><line x1="326.77" y1="498.88" x2="326.77" y2="600.48" stroke="#8c8c8c" stroke-width="1.05" stroke-dasharray="4.4 4.8" stroke-dashoffset="2.35" stroke-opacity="0.9"/><line x1="334.19" y1="496.94" x2="334.19" y2="598.54" stroke="#e0e0e0" stroke-width="0.6"/><line x1="334.19" y1="496.94" x2="334.19" y2="598.54" stroke="#8c8c8c" stroke-width="1.05" stroke-dasharray="4.4 4.8" stroke-dashoffset="2.35" stroke-opacity="0.9"/><line x1="341.62" y1="495.00" x2="341.62" y2="596.60" stroke="#e0e0e0" stroke-width="0.6"/><line x1="341.62" y1="495.00" x2="341.62" y2="596.60" stroke="#8c8c8c" stroke-width="1.05" stroke-dasharray="4.4 4.8" stroke-dashoffset="2.35" stroke-opacity="0.9"/><line x1="349.04" y1="493.06" x2="349.04" y2="594.66" stroke="#e0e0e0" stroke-width="0.6"/><line x1="349.04" y1="493.06" x2="349.04" y2="594.66" stroke="#8c8c8c" stroke-width="1.05" stroke-dasharray="4.4 4.8" stroke-dashoffset="2.35" stroke-opacity="0.9"/><line x1="356.46" y1="491.12" x2="356.46" y2="592.72" stroke="#e0e0e0" stroke-width="0.6"/><line x1="356.46" y1="491.12" x2="356.46" y2="592.72" stroke="#8c8c8c" stroke-width="1.05" stroke-dasharray="4.4 4.8" stroke-dashoffset="2.35" stroke-opacity="0.9"/><line x1="363.88" y1="489.18" x2="363.88" y2="590.78" stroke="#e0e0e0" stroke-width="0.6"/><line x1="363.88" y1="489.18" x2="363.88" y2="590.78" stroke="#8c8c8c" stroke-width="1.05" stroke-dasharray="4.4 4.8" stroke-dashoffset="2.35" stroke-opacity="0.9"/><line x1="371.31" y1="487.24" x2="371.31" y2="588.84" stroke="#e0e0e0" stroke-width="0.6"/><line x1="371.31" y1="487.24" x2="371.31" y2="588.84" stroke="#8c8c8c" stroke-width="1.05" stroke-dasharray="4.4 4.8" stroke-dashoffset="2.35" stroke-opacity="0.9"/><line x1="378.73" y1="485.30" x2="378.73" y2="586.90" stroke="#e0e0e0" stroke-width="0.6"/><line x1="378.73" y1="485.30" x2="378.73" y2="586.90" stroke="#8c8c8c" stroke-width="1.05" stroke-dasharray="4.4 4.8" stroke-dashoffset="2.35" stroke-opacity="0.9"/><line x1="386.15" y1="483.36" x2="386.15" y2="584.96" stroke="#e0e0e0" stroke-width="0.6"/><line x1="386.15" y1="483.36" x2="386.15" y2="584.96" stroke="#8c8c8c" stroke-width="1.05" stroke-dasharray="4.4 4.8" stroke-dashoffset="2.35" stroke-opacity="0.9"/><line x1="393.58" y1="481.42" x2="393.58" y2="583.02" stroke="#e0e0e0" stroke-width="0.6"/><line x1="393.58" y1="481.42" x2="393.58" y2="583.02" stroke="#8c8c8c" stroke-width="1.05" stroke-dasharray="4.4 4.8" stroke-dashoffset="2.35" stroke-opacity="0.9"/><line x1="401.00" y1="479.48" x2="401.00" y2="581.08" stroke="#e0e0e0" stroke-width="0.6"/><line x1="401.00" y1="479.48" x2="401.00" y2="581.08" stroke="#8c8c8c" stroke-width="1.05" stroke-dasharray="4.4 4.8" stroke-dashoffset="2.35" stroke-opacity="0.9"/><line x1="408.42" y1="477.54" x2="408.42" y2="579.14" stroke="#e0e0e0" stroke-width="0.6"/><line x1="408.42" y1="477.54" x2="408.42" y2="579.14" stroke="#8c8c8c" stroke-width="1.05" stroke-dasharray="4.4 4.8" stroke-dashoffset="2.35" stroke-opacity="0.9"/><line x1="415.85" y1="475.60" x2="415.85" y2="577.20" stroke="#e0e0e0" stroke-width="0.6"/><line x1="415.85" y1="475.60" x2="415.85" y2="577.20" stroke="#8c8c8c" stroke-width="1.05" stroke-dasharray="4.4 4.8" stroke-dashoffset="2.35" stroke-opacity="0.9"/><line x1="423.27" y1="473.66" x2="423.27" y2="575.26" stroke="#e0e0e0" stroke-width="0.6"/><line x1="423.27" y1="473.66" x2="423.27" y2="575.26" stroke="#8c8c8c" stroke-width="1.05" stroke-dasharray="4.4 4.8" stroke-dashoffset="2.35" stroke-opacity="0.9"/><line x1="430.69" y1="471.72" x2="430.69" y2="573.32" stroke="#e0e0e0" stroke-width="0.6"/><line x1="430.69" y1="471.72" x2="430.69" y2="573.32" stroke="#8c8c8c" stroke-width="1.05" stroke-dasharray="4.4 4.8" stroke-dashoffset="2.35" stroke-opacity="0.9"/><line x1="438.11" y1="469.78" x2="438.11" y2="571.38" stroke="#e0e0e0" stroke-width="0.6"/><line x1="438.11" y1="469.78" x2="438.11" y2="571.38" stroke="#8c8c8c" stroke-width="1.05" stroke-dasharray="4.4 4.8" stroke-dashoffset="2.35" stroke-opacity="0.9"/><line x1="445.54" y1="467.84" x2="445.54" y2="569.44" stroke="#e0e0e0" stroke-width="0.6"/><line x1="445.54" y1="467.84" x2="445.54" y2="569.44" stroke="#8c8c8c" stroke-width="1.05" stroke-dasharray="4.4 4.8" stroke-dashoffset="2.35" stroke-opacity="0.9"/><line x1="452.96" y1="465.90" x2="452.96" y2="567.50" stroke="#e0e0e0" stroke-width="0.6"/><line x1="452.96" y1="465.90" x2="452.96" y2="567.50" stroke="#8c8c8c" stroke-width="1.05" stroke-dasharray="4.4 4.8" stroke-dashoffset="2.35" stroke-opacity="0.9"/><line x1="460.38" y1="463.96" x2="460.38" y2="565.56" stroke="#e0e0e0" stroke-width="0.6"/><line x1="460.38" y1="463.96" x2="460.38" y2="565.56" stroke="#8c8c8c" stroke-width="1.05" stroke-dasharray="4.4 4.8" stroke-dashoffset="2.35" stroke-opacity="0.9"/><line x1="467.81" y1="462.02" x2="467.81" y2="563.62" stroke="#e0e0e0" stroke-width="0.6"/><line x1="467.81" y1="462.02" x2="467.81" y2="563.62" stroke="#8c8c8c" stroke-width="1.05" stroke-dasharray="4.4 4.8" stroke-dashoffset="2.35" stroke-opacity="0.9"/><line x1="475.23" y1="460.08" x2="475.23" y2="561.68" stroke="#e0e0e0" stroke-width="0.6"/><line x1="475.23" y1="460.08" x2="475.23" y2="561.68" stroke="#8c8c8c" stroke-width="1.05" stroke-dasharray="4.4 4.8" stroke-dashoffset="2.35" stroke-opacity="0.9"/><line x1="482.65" y1="458.14" x2="482.65" y2="559.74" stroke="#e0e0e0" stroke-width="0.6"/><line x1="482.65" y1="458.14" x2="482.65" y2="559.74" stroke="#8c8c8c" stroke-width="1.05" stroke-dasharray="4.4 4.8" stroke-dashoffset="2.35" stroke-opacity="0.9"/><line x1="490.07" y1="456.20" x2="490.07" y2="557.80" stroke="#e0e0e0" stroke-width="0.6"/><line x1="490.07" y1="456.20" x2="490.07" y2="557.80" stroke="#8c8c8c" stroke-width="1.05" stroke-dasharray="4.4 4.8" stroke-dashoffset="2.35" stroke-opacity="0.9"/><line x1="497.50" y1="454.26" x2="497.50" y2="555.86" stroke="#e0e0e0" stroke-width="0.6"/><line x1="497.50" y1="454.26" x2="497.50" y2="555.86" stroke="#8c8c8c" stroke-width="1.05" stroke-dasharray="4.4 4.8" stroke-dashoffset="2.35" stroke-opacity="0.9"/><line x1="504.92" y1="452.32" x2="504.92" y2="553.92" stroke="#e0e0e0" stroke-width="0.6"/><line x1="504.92" y1="452.32" x2="504.92" y2="553.92" stroke="#8c8c8c" stroke-width="1.05" stroke-dasharray="4.4 4.8" stroke-dashoffset="2.35" stroke-opacity="0.9"/><line x1="512.34" y1="450.38" x2="512.34" y2="551.98" stroke="#e0e0e0" stroke-width="0.6"/><line x1="512.34" y1="450.38" x2="512.34" y2="551.98" stroke="#8c8c8c" stroke-width="1.05" stroke-dasharray="4.4 4.8" stroke-dashoffset="2.35" stroke-opacity="0.9"/><line x1="519.77" y1="448.44" x2="519.77" y2="550.04" stroke="#e0e0e0" stroke-width="0.6"/><line x1="519.77" y1="448.44" x2="519.77" y2="550.04" stroke="#8c8c8c" stroke-width="1.05" stroke-dasharray="4.4 4.8" stroke-dashoffset="2.35" stroke-opacity="0.9"/><line x1="527.19" y1="446.50" x2="527.19" y2="548.10" stroke="#e0e0e0" stroke-width="0.6"/><line x1="527.19" y1="446.50" x2="527.19" y2="548.10" stroke="#8c8c8c" stroke-width="1.05" stroke-dasharray="4.4 4.8" stroke-dashoffset="2.35" stroke-opacity="0.9"/><line x1="534.61" y1="444.56" x2="534.61" y2="546.16" stroke="#e0e0e0" stroke-width="0.6"/><line x1="534.61" y1="444.56" x2="534.61" y2="546.16" stroke="#8c8c8c" stroke-width="1.05" stroke-dasharray="4.4 4.8" stroke-dashoffset="2.35" stroke-opacity="0.9"/><line x1="542.04" y1="442.62" x2="542.04" y2="544.22" stroke="#e0e0e0" stroke-width="0.6"/><line x1="542.04" y1="442.62" x2="542.04" y2="544.22" stroke="#8c8c8c" stroke-width="1.05" stroke-dasharray="4.4 4.8" stroke-dashoffset="2.35" stroke-opacity="0.9"/><line x1="549.46" y1="440.68" x2="549.46" y2="542.28" stroke="#e0e0e0" stroke-width="0.6"/><line x1="549.46" y1="440.68" x2="549.46" y2="542.28" stroke="#8c8c8c" stroke-width="1.05" stroke-dasharray="4.4 4.8" stroke-dashoffset="2.35" stroke-opacity="0.9"/><line x1="556.88" y1="438.74" x2="556.88" y2="540.34" stroke="#e0e0e0" stroke-width="0.6"/><line x1="556.88" y1="438.74" x2="556.88" y2="540.34" stroke="#8c8c8c" stroke-width="1.05" stroke-dasharray="4.4 4.8" stroke-dashoffset="2.35" stroke-opacity="0.9"/><line x1="564.31" y1="436.80" x2="564.31" y2="538.40" stroke="#e0e0e0" stroke-width="0.6"/><line x1="564.31" y1="436.80" x2="564.31" y2="538.40" stroke="#8c8c8c" stroke-width="1.05" stroke-dasharray="4.4 4.8" stroke-dashoffset="2.35" stroke-opacity="0.9"/><line x1="571.73" y1="434.86" x2="571.73" y2="536.46" stroke="#e0e0e0" stroke-width="0.6"/><line x1="571.73" y1="434.86" x2="571.73" y2="536.46" stroke="#8c8c8c" stroke-width="1.05" stroke-dasharray="4.4 4.8" stroke-dashoffset="2.35" stroke-opacity="0.9"/><line x1="579.15" y1="432.92" x2="579.15" y2="534.52" stroke="#e0e0e0" stroke-width="0.6"/><line x1="579.15" y1="432.92" x2="579.15" y2="534.52" stroke="#8c8c8c" stroke-width="1.05" stroke-dasharray="4.4 4.8" stroke-dashoffset="2.35" stroke-opacity="0.9"/><line x1="586.57" y1="430.98" x2="586.57" y2="532.58" stroke="#e0e0e0" stroke-width="0.6"/><line x1="586.57" y1="430.98" x2="586.57" y2="532.58" stroke="#8c8c8c" stroke-width="1.05" stroke-dasharray="4.4 4.8" stroke-dashoffset="2.35" stroke-opacity="0.9"/><line x1="594.00" y1="429.04" x2="594.00" y2="530.64" stroke="#e0e0e0" stroke-width="0.6"/><line x1="594.00" y1="429.04" x2="594.00" y2="530.64" stroke="#8c8c8c" stroke-width="1.05" stroke-dasharray="4.4 4.8" stroke-dashoffset="2.35" stroke-opacity="0.9"/><line x1="601.42" y1="427.10" x2="601.42" y2="528.70" stroke="#e0e0e0" stroke-width="0.6"/><line x1="601.42" y1="427.10" x2="601.42" y2="528.70" stroke="#8c8c8c" stroke-width="1.05" stroke-dasharray="4.4 4.8" stroke-dashoffset="2.35" stroke-opacity="0.9"/><line x1="608.84" y1="425.16" x2="608.84" y2="526.76" stroke="#e0e0e0" stroke-width="0.6"/><line x1="608.84" y1="425.16" x2="608.84" y2="526.76" stroke="#8c8c8c" stroke-width="1.05" stroke-dasharray="4.4 4.8" stroke-dashoffset="2.35" stroke-opacity="0.9"/><line x1="616.27" y1="423.22" x2="616.27" y2="524.82" stroke="#e0e0e0" stroke-width="0.6"/><line x1="616.27" y1="423.22" x2="616.27" y2="524.82" stroke="#8c8c8c" stroke-width="1.05" stroke-dasharray="4.4 4.8" stroke-dashoffset="2.35" stroke-opacity="0.9"/><line x1="623.69" y1="421.28" x2="623.69" y2="522.88" stroke="#e0e0e0" stroke-width="0.6"/><line x1="623.69" y1="421.28" x2="623.69" y2="522.88" stroke="#8c8c8c" stroke-width="1.05" stroke-dasharray="4.4 4.8" stroke-dashoffset="2.35" stroke-opacity="0.9"/><line x1="631.11" y1="419.34" x2="631.11" y2="520.94" stroke="#e0e0e0" stroke-width="0.6"/><line x1="631.11" y1="419.34" x2="631.11" y2="520.94" stroke="#8c8c8c" stroke-width="1.05" stroke-dasharray="4.4 4.8" stroke-dashoffset="2.35" stroke-opacity="0.9"/><line x1="638.54" y1="417.40" x2="638.54" y2="519.00" stroke="#e0e0e0" stroke-width="0.6"/><line x1="638.54" y1="417.40" x2="638.54" y2="519.00" stroke="#8c8c8c" stroke-width="1.05" stroke-dasharray="4.4 4.8" stroke-dashoffset="2.35" stroke-opacity="0.9"/><line x1="645.96" y1="415.46" x2="645.96" y2="517.06" stroke="#e0e0e0" stroke-width="0.6"/><line x1="645.96" y1="415.46" x2="645.96" y2="517.06" stroke="#8c8c8c" stroke-width="1.05" stroke-dasharray="4.4 4.8" stroke-dashoffset="2.35" stroke-opacity="0.9"/><line x1="653.38" y1="413.52" x2="653.38" y2="515.12" stroke="#e0e0e0" stroke-width="0.6"/><line x1="653.38" y1="413.52" x2="653.38" y2="515.12" stroke="#8c8c8c" stroke-width="1.05" stroke-dasharray="4.4 4.8" stroke-dashoffset="2.35" stroke-opacity="0.9"/><line x1="660.80" y1="411.58" x2="660.80" y2="513.18" stroke="#e0e0e0" stroke-width="0.6"/><line x1="660.80" y1="411.58" x2="660.80" y2="513.18" stroke="#8c8c8c" stroke-width="1.05" stroke-dasharray="4.4 4.8" stroke-dashoffset="2.35" stroke-opacity="0.9"/><line x1="668.23" y1="409.64" x2="668.23" y2="511.24" stroke="#e0e0e0" stroke-width="0.6"/><line x1="668.23" y1="409.64" x2="668.23" y2="511.24" stroke="#8c8c8c" stroke-width="1.05" stroke-dasharray="4.4 4.8" stroke-dashoffset="2.35" stroke-opacity="0.9"/><line x1="675.65" y1="407.70" x2="675.65" y2="511.00" stroke="#e0e0e0" stroke-width="0.6"/><line x1="675.65" y1="407.70" x2="675.65" y2="511.00" stroke="#8c8c8c" stroke-width="1.05" stroke-dasharray="4.4 4.8" stroke-dashoffset="2.35" stroke-opacity="0.9"/><rect x="300.8" y="399.20" width="378.6" height="3.8" fill="#546d66"/><rect x="300.8" y="506.00" width="378.6" height="3.8" fill="#546d66"/><rect x="300.8" y="611.00" width="378.6" height="3.8" fill="#546d66"/><rect x="300.80" y="501.25" width="7.47" height="3.5" fill="#5a3630"/><rect x="308.22" y="499.31" width="7.47" height="3.5" fill="#5a3630"/><rect x="315.65" y="497.37" width="7.47" height="3.5" fill="#5a3630"/><rect x="323.07" y="495.43" width="7.47" height="3.5" fill="#5a3630"/><rect x="330.49" y="493.49" width="7.47" height="3.5" fill="#5a3630"/><rect x="337.92" y="491.55" width="7.47" height="3.5" fill="#5a3630"/><rect x="345.34" y="489.61" width="7.47" height="3.5" fill="#5a3630"/><rect x="352.76" y="487.67" width="7.47" height="3.5" fill="#5a3630"/><rect x="360.18" y="485.73" width="7.47" height="3.5" fill="#5a3630"/><rect x="367.61" y="483.79" width="7.47" height="3.5" fill="#5a3630"/><rect x="375.03" y="481.85" width="7.47" height="3.5" fill="#5a3630"/><rect x="382.45" y="479.91" width="7.47" height="3.5" fill="#5a3630"/><rect x="389.88" y="477.97" width="7.47" height="3.5" fill="#5a3630"/><rect x="397.30" y="476.03" width="7.47" height="3.5" fill="#5a3630"/><rect x="404.72" y="474.09" width="7.47" height="3.5" fill="#5a3630"/><rect x="412.14" y="472.15" width="7.47" height="3.5" fill="#5a3630"/><rect x="419.57" y="470.21" width="7.47" height="3.5" fill="#5a3630"/><rect x="426.99" y="468.27" width="7.47" height="3.5" fill="#5a3630"/><rect x="434.41" y="466.33" width="7.47" height="3.5" fill="#5a3630"/><rect x="441.84" y="464.39" width="7.47" height="3.5" fill="#5a3630"/><rect x="449.26" y="462.45" width="7.47" height="3.5" fill="#5a3630"/><rect x="456.68" y="460.51" width="7.47" height="3.5" fill="#5a3630"/><rect x="464.11" y="458.57" width="7.47" height="3.5" fill="#5a3630"/><rect x="471.53" y="456.63" width="7.47" height="3.5" fill="#5a3630"/><rect x="478.95" y="454.69" width="7.47" height="3.5" fill="#5a3630"/><rect x="486.38" y="452.75" width="7.47" height="3.5" fill="#5a3630"/><rect x="493.80" y="450.81" width="7.47" height="3.5" fill="#5a3630"/><rect x="501.22" y="448.87" width="7.47" height="3.5" fill="#5a3630"/><rect x="508.64" y="446.93" width="7.47" height="3.5" fill="#5a3630"/><rect x="516.07" y="444.99" width="7.47" height="3.5" fill="#5a3630"/><rect x="523.49" y="443.05" width="7.47" height="3.5" fill="#5a3630"/><rect x="530.91" y="441.11" width="7.47" height="3.5" fill="#5a3630"/><rect x="538.34" y="439.17" width="7.47" height="3.5" fill="#5a3630"/><rect x="545.76" y="437.23" width="7.47" height="3.5" fill="#5a3630"/><rect x="553.18" y="435.29" width="7.47" height="3.5" fill="#5a3630"/><rect x="560.61" y="433.35" width="7.47" height="3.5" fill="#5a3630"/><rect x="568.03" y="431.41" width="7.47" height="3.5" fill="#5a3630"/><rect x="575.45" y="429.47" width="7.47" height="3.5" fill="#5a3630"/><rect x="582.87" y="427.53" width="7.47" height="3.5" fill="#5a3630"/><rect x="590.30" y="425.59" width="7.47" height="3.5" fill="#5a3630"/><rect x="597.72" y="423.65" width="7.47" height="3.5" fill="#5a3630"/><rect x="605.14" y="421.71" width="7.47" height="3.5" fill="#5a3630"/><rect x="612.57" y="419.77" width="7.47" height="3.5" fill="#5a3630"/><rect x="619.99" y="417.83" width="7.47" height="3.5" fill="#5a3630"/><rect x="627.41" y="415.89" width="7.47" height="3.5" fill="#5a3630"/><rect x="634.84" y="413.95" width="7.47" height="3.5" fill="#5a3630"/><rect x="642.26" y="412.01" width="7.47" height="3.5" fill="#5a3630"/><rect x="649.68" y="410.07" width="7.47" height="3.5" fill="#5a3630"/><rect x="657.10" y="408.13" width="7.47" height="3.5" fill="#5a3630"/><rect x="664.53" y="406.19" width="7.47" height="3.5" fill="#5a3630"/><rect x="671.95" y="404.25" width="7.47" height="3.5" fill="#5a3630"/><rect x="304.50" y="606.25" width="7.47" height="3.5" fill="#5a3630"/><rect x="311.92" y="604.31" width="7.47" height="3.5" fill="#5a3630"/><rect x="319.35" y="602.37" width="7.47" height="3.5" fill="#5a3630"/><rect x="326.77" y="600.43" width="7.47" height="3.5" fill="#5a3630"/><rect x="334.19" y="598.49" width="7.47" height="3.5" fill="#5a3630"/><rect x="341.62" y="596.55" width="7.47" height="3.5" fill="#5a3630"/><rect x="349.04" y="594.61" width="7.47" height="3.5" fill="#5a3630"/><rect x="356.46" y="592.67" width="7.47" height="3.5" fill="#5a3630"/><rect x="363.88" y="590.73" width="7.47" height="3.5" fill="#5a3630"/><rect x="371.31" y="588.79" width="7.47" height="3.5" fill="#5a3630"/><rect x="378.73" y="586.85" width="7.47" height="3.5" fill="#5a3630"/><rect x="386.15" y="584.91" width="7.47" height="3.5" fill="#5a3630"/><rect x="393.58" y="582.97" width="7.47" height="3.5" fill="#5a3630"/><rect x="401.00" y="581.03" width="7.47" height="3.5" fill="#5a3630"/><rect x="408.42" y="579.09" width="7.47" height="3.5" fill="#5a3630"/><rect x="415.85" y="577.15" width="7.47" height="3.5" fill="#5a3630"/><rect x="423.27" y="575.21" width="7.47" height="3.5" fill="#5a3630"/><rect x="430.69" y="573.27" width="7.47" height="3.5" fill="#5a3630"/><rect x="438.11" y="571.33" width="7.47" height="3.5" fill="#5a3630"/><rect x="445.54" y="569.39" width="7.47" height="3.5" fill="#5a3630"/><rect x="452.96" y="567.45" width="7.47" height="3.5" fill="#5a3630"/><rect x="460.38" y="565.51" width="7.47" height="3.5" fill="#5a3630"/><rect x="467.81" y="563.57" width="7.47" height="3.5" fill="#5a3630"/><rect x="475.23" y="561.63" width="7.47" height="3.5" fill="#5a3630"/><rect x="482.65" y="559.69" width="7.47" height="3.5" fill="#5a3630"/><rect x="490.07" y="557.75" width="7.47" height="3.5" fill="#5a3630"/><rect x="497.50" y="555.81" width="7.47" height="3.5" fill="#5a3630"/><rect x="504.92" y="553.87" width="7.47" height="3.5" fill="#5a3630"/><rect x="512.34" y="551.93" width="7.47" height="3.5" fill="#5a3630"/><rect x="519.77" y="549.99" width="7.47" height="3.5" fill="#5a3630"/><rect x="527.19" y="548.05" width="7.47" height="3.5" fill="#5a3630"/><rect x="534.61" y="546.11" width="7.47" height="3.5" fill="#5a3630"/><rect x="542.04" y="544.17" width="7.47" height="3.5" fill="#5a3630"/><rect x="549.46" y="542.23" width="7.47" height="3.5" fill="#5a3630"/><rect x="556.88" y="540.29" width="7.47" height="3.5" fill="#5a3630"/><rect x="564.31" y="538.35" width="7.47" height="3.5" fill="#5a3630"/><rect x="571.73" y="536.41" width="7.47" height="3.5" fill="#5a3630"/><rect x="579.15" y="534.47" width="7.47" height="3.5" fill="#5a3630"/><rect x="586.57" y="532.53" width="7.47" height="3.5" fill="#5a3630"/><rect x="594.00" y="530.59" width="7.47" height="3.5" fill="#5a3630"/><rect x="601.42" y="528.65" width="7.47" height="3.5" fill="#5a3630"/><rect x="608.84" y="526.71" width="7.47" height="3.5" fill="#5a3630"/><rect x="616.27" y="524.77" width="7.47" height="3.5" fill="#5a3630"/><rect x="623.69" y="522.83" width="7.47" height="3.5" fill="#5a3630"/><rect x="631.11" y="520.89" width="7.47" height="3.5" fill="#5a3630"/><rect x="638.54" y="518.95" width="7.47" height="3.5" fill="#5a3630"/><rect x="645.96" y="517.01" width="7.47" height="3.5" fill="#5a3630"/><rect x="653.38" y="515.07" width="7.47" height="3.5" fill="#5a3630"/><rect x="660.80" y="513.13" width="7.47" height="3.5" fill="#5a3630"/><rect x="668.23" y="511.19" width="7.47" height="3.5" fill="#5a3630"/><rect x="295.9" y="380.6" width="388.6" height="237.3" fill="none" stroke="#333" stroke-width="1.5"/><text x="288.8" y="617.1" font-size="7.2" text-anchor="middle" fill="#161616" stroke="#161616" stroke-width="0.22" style="font-family:'Liberation Sans', sans-serif;font-weight:bold;">0</text><text x="288.8" y="582.0" font-size="7.2" text-anchor="middle" fill="#161616" stroke="#161616" stroke-width="0.22" style="font-family:'Liberation Sans', sans-serif;font-weight:bold;">1</text><text x="288.8" y="545.3" font-size="7.2" text-anchor="middle" fill="#161616" stroke="#161616" stroke-width="0.22" style="font-family:'Liberation Sans', sans-serif;font-weight:bold;">2</text><text x="288.8" y="509.1" font-size="7.2" text-anchor="middle" fill="#161616" stroke="#161616" stroke-width="0.22" style="font-family:'Liberation Sans', sans-serif;font-weight:bold;">3</text><text x="288.8" y="475.1" font-size="7.2" text-anchor="middle" fill="#161616" stroke="#161616" stroke-width="0.22" style="font-family:'Liberation Sans', sans-serif;font-weight:bold;">4</text><text x="288.8" y="439.9" font-size="7.2" text-anchor="middle" fill="#161616" stroke="#161616" stroke-width="0.22" style="font-family:'Liberation Sans', sans-serif;font-weight:bold;">5</text><text x="288.8" y="406.0" font-size="7.2" text-anchor="middle" fill="#161616" stroke="#161616" stroke-width="0.22" style="font-family:'Liberation Sans', sans-serif;font-weight:bold;">6</text><text x="310" y="627" font-size="7.2" text-anchor="middle" fill="#161616" stroke="#161616" stroke-width="0.22" style="font-family:'Liberation Sans', sans-serif;font-weight:bold;">600</text><text x="366.5" y="627" font-size="7.2" text-anchor="middle" fill="#161616" stroke="#161616" stroke-width="0.22" style="font-family:'Liberation Sans', sans-serif;font-weight:bold;">800</text><text x="425.8" y="627" font-size="7.2" text-anchor="middle" fill="#161616" stroke="#161616" stroke-width="0.22" style="font-family:'Liberation Sans', sans-serif;font-weight:bold;">1000</text><text x="488.5" y="627" font-size="7.2" text-anchor="middle" fill="#161616" stroke="#161616" stroke-width="0.22" style="font-family:'Liberation Sans', sans-serif;font-weight:bold;">1200</text><text x="550.4" y="627" font-size="7.2" text-anchor="middle" fill="#161616" stroke="#161616" stroke-width="0.22" style="font-family:'Liberation Sans', sans-serif;font-weight:bold;">1400</text><text x="612.3" y="627" font-size="7.2" text-anchor="middle" fill="#161616" stroke="#161616" stroke-width="0.22" style="font-family:'Liberation Sans', sans-serif;font-weight:bold;">1600</text><text x="674" y="627" font-size="7.2" text-anchor="middle" fill="#161616" stroke="#161616" stroke-width="0.22" style="font-family:'Liberation Sans', sans-serif;font-weight:bold;">1800</text><text x="490" y="635.3" font-size="7.2" text-anchor="middle" fill="#161616" stroke="#161616" stroke-width="0.22" style="font-family:'Liberation Sans', sans-serif;font-weight:bold;">Mass Range</text><g transform="translate(278.2,505.7) rotate(-90)"><text x="0" y="0" font-size="7.2" text-anchor="middle" fill="#161616" stroke="#161616" stroke-width="0.22" style="font-family:'Liberation Sans', sans-serif;font-weight:bold;">Cycle Time (s)</text></g></g></svg>
</div></body></html>
